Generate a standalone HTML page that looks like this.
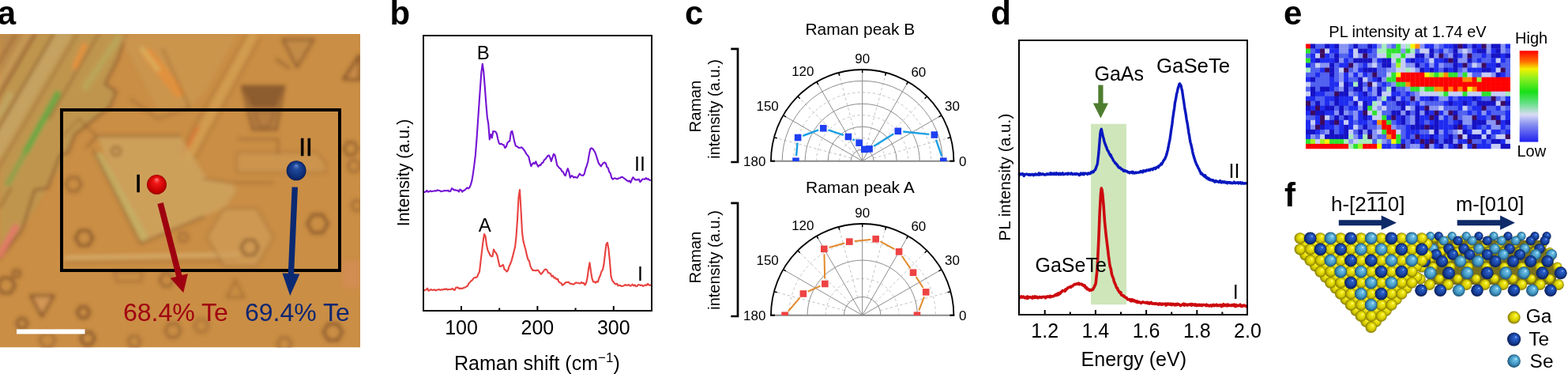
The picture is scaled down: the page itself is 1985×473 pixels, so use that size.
<!DOCTYPE html>
<html><head><meta charset="utf-8"><title>Figure</title>
<style>html,body{margin:0;padding:0;background:#fff;} body{width:1985px;height:473px;overflow:hidden;} svg{display:block;} text{font-family:'Liberation Sans', Arial, Helvetica, sans-serif;}</style>
</head><body>
<svg width="1985" height="473" viewBox="0 0 1985 473">
<rect width="1985" height="473" fill="#fff"/>
<defs><filter id="blur3" x="-10%" y="-10%" width="120%" height="120%"><feGaussianBlur stdDeviation="2.6"/></filter><filter id="blur6" x="-20%" y="-20%" width="140%" height="140%"><feGaussianBlur stdDeviation="5"/></filter><clipPath id="photoclip"><rect x="0" y="43" width="456" height="396.5"/></clipPath><radialGradient id="redball" cx="0.5" cy="0.5" r="0.5" fx="0.5" fy="0.22"><stop offset="0" stop-color="#ff8080"/><stop offset="0.3" stop-color="#f01818"/><stop offset="0.8" stop-color="#c80000"/><stop offset="1" stop-color="#9a0000"/></radialGradient><radialGradient id="blueball" cx="0.5" cy="0.5" r="0.5" fx="0.5" fy="0.22"><stop offset="0" stop-color="#6a8ad0"/><stop offset="0.3" stop-color="#204a9c"/><stop offset="0.8" stop-color="#0e2e78"/><stop offset="1" stop-color="#081e56"/></radialGradient></defs>
<g clip-path="url(#photoclip)">
<rect x="0" y="43" width="456" height="396.5" fill="#ca8e45"/>
<g filter="url(#blur3)">
<polygon points="0,43 160,43 149,75 133,106 147,116 139,135 95,170 86,193 60,238 28,290 0,327" fill="#bd9650" stroke="none" stroke-width="0" opacity="0.85" stroke-linejoin="round"/>
<polygon points="0,43 45,43 0,116" fill="#b8844a" stroke="none" stroke-width="0" opacity="0.6" stroke-linejoin="round"/>
<line x1="80.0" y1="43" x2="-94.7" y2="340" stroke="#c6a464" stroke-width="20" opacity="0.9" stroke-linecap="round"/>
<line x1="12.7" y1="120" x2="-93.2" y2="300" stroke="#c0aa66" stroke-width="8" opacity="0.8" stroke-linecap="round"/>
<line x1="20.0" y1="43" x2="-48.8" y2="160" stroke="#8e5428" stroke-width="2.5" opacity="0.7" stroke-linecap="round"/>
<line x1="45.0" y1="43" x2="-47.4" y2="200" stroke="#8e5428" stroke-width="3" opacity="0.85" stroke-linecap="round"/>
<line x1="68.0" y1="43" x2="-59.6" y2="260" stroke="#8a5a2c" stroke-width="3" opacity="0.8" stroke-linecap="round"/>
<line x1="98.0" y1="43" x2="-12.0" y2="230" stroke="#946234" stroke-width="2.5" opacity="0.6" stroke-linecap="round"/>
<line x1="125.0" y1="43" x2="62.1" y2="150" stroke="#8e5a2e" stroke-width="3" opacity="0.6" stroke-linecap="round"/>
<line x1="35.0" y1="43" x2="-57.4" y2="200" stroke="#d0a860" stroke-width="6" opacity="0.6" stroke-linecap="round"/>
<line x1="31.7" y1="193" x2="72.9" y2="119" stroke="#6aa844" stroke-width="8" opacity="1" stroke-linecap="round"/>
<line x1="10" y1="232" x2="32" y2="193" stroke="#86a448" stroke-width="7" opacity="0.8" stroke-linecap="round"/>
<line x1="95" y1="84" x2="107" y2="58" stroke="#e8923c" stroke-width="7" opacity="0.9" stroke-linecap="round"/>
<line x1="108" y1="110" x2="150" y2="48" stroke="#b8ac5c" stroke-width="9" opacity="0.7" stroke-linecap="round"/>
<polyline points="160,43 149,75 133,106 147,116 139,135 95,170 86,193 76,196 60,238 44,240 28,290 0,327" fill="none" stroke="#8a562a" stroke-width="3" opacity="0.85" stroke-linejoin="round" stroke-linecap="round"/>
<line x1="0" y1="322" x2="20" y2="287" stroke="#e47a68" stroke-width="8" opacity="0.95" stroke-linecap="round"/>
<line x1="0" y1="262" x2="14" y2="238" stroke="#8a582a" stroke-width="3" opacity="0.6" stroke-linecap="round"/>
<polygon points="150,43 300,43 262,112 238,140 200,140 180,100" fill="#cc9a52" stroke="none" stroke-width="0" opacity="0.6" stroke-linejoin="round"/>
<line x1="187" y1="68" x2="226" y2="116" stroke="#e4903a" stroke-width="14" opacity="0.85" stroke-linecap="round"/>
<line x1="180" y1="62" x2="200" y2="88" stroke="#d8b868" stroke-width="6" opacity="0.7" stroke-linecap="round"/>
<polyline points="206,62 240,136 200,150 165,125" fill="none" stroke="#8a582a" stroke-width="2.5" opacity="0.5" stroke-linejoin="round" stroke-linecap="round"/>
<line x1="238" y1="198" x2="320" y2="46" stroke="#d8a656" stroke-width="11" opacity="0.6" stroke-linecap="round"/>
<line x1="232" y1="196" x2="250" y2="162" stroke="#e06a2c" stroke-width="5" opacity="0.6" stroke-linecap="round"/>
<line x1="228" y1="192" x2="312" y2="44" stroke="#8a582a" stroke-width="2" opacity="0.45" stroke-linecap="round"/>
<line x1="247" y1="200" x2="328" y2="50" stroke="#8a582a" stroke-width="2" opacity="0.45" stroke-linecap="round"/>
<polygon points="306,109 360,109 350,164 320,164" fill="#b27a40" stroke="#7e4e26" stroke-width="2.5" opacity="0.85" stroke-linejoin="round"/>
<polygon points="307,110 359,110 350,136 318,136" fill="#8a5a2e" stroke="none" stroke-width="0" opacity="0.9" stroke-linejoin="round"/>
<polygon points="322,140 348,140 340,160 328,160" fill="none" stroke="#7e4e26" stroke-width="2" opacity="0.6" stroke-linejoin="round"/>
<polygon points="358,50 397,50 376,85" fill="#c08a48" stroke="#7e4e26" stroke-width="3" opacity="0.75" stroke-linejoin="round"/>
<line x1="350" y1="75" x2="366" y2="86" stroke="#7e4e26" stroke-width="3" opacity="0.6" stroke-linecap="round"/>
<polygon points="435,100 455,70 455,101" fill="#c88a48" stroke="#7c4c24" stroke-width="3.2" opacity="0.9" stroke-linejoin="round"/>
<polygon points="453.0,188.0 448.5,195.8 439.5,195.8 435.0,188.0 439.5,180.2 448.5,180.2" fill="none" stroke="#7c4c24" stroke-width="3.2" opacity="0.7" stroke-linejoin="round"/>
<polyline points="303,176 352,176 352,195" fill="none" stroke="#8a582a" stroke-width="2.5" opacity="0.55" stroke-linejoin="round" stroke-linecap="round"/>
<polygon points="123,172 228,172 262,226 292,231 300,240 285,262 258,274 178,306" fill="#cda562" stroke="none" stroke-width="0" opacity="0.75" stroke-linejoin="round"/>
<line x1="126" y1="198" x2="182" y2="300" stroke="#c4b066" stroke-width="10" opacity="0.85" stroke-linecap="round"/>
<polyline points="110,186 123,172 228,172" fill="none" stroke="#8a582a" stroke-width="2.5" opacity="0.75" stroke-linejoin="round" stroke-linecap="round"/>
<polyline points="118,190 178,308 258,274" fill="none" stroke="#8a582a" stroke-width="2.5" opacity="0.75" stroke-linejoin="round" stroke-linecap="round"/>
<polyline points="258,226 292,231 345,231" fill="none" stroke="#8a582a" stroke-width="2.5" opacity="0.5" stroke-linejoin="round" stroke-linecap="round"/>
<polyline points="80,172 100,150 122,172" fill="none" stroke="#8a582a" stroke-width="2.5" opacity="0.5" stroke-linejoin="round" stroke-linecap="round"/>
<line x1="84" y1="326" x2="300" y2="322" stroke="#d6b070" stroke-width="6" opacity="0.75" stroke-linecap="round"/>
<line x1="84" y1="332" x2="300" y2="329" stroke="#8a582a" stroke-width="2" opacity="0.5" stroke-linecap="round"/>
<polygon points="300,193 400,193 412,205 412,218 300,218" fill="#cf9c58" stroke="#8a582a" stroke-width="2" opacity="0.45" stroke-linejoin="round"/>
<polygon points="117.5,301.0 112.0,310.5 101.0,310.5 95.5,301.0 101.0,291.5 112.0,291.5" fill="none" stroke="#7c4c24" stroke-width="3.2" opacity="0.9" stroke-linejoin="round"/>
<polygon points="103.0,233.0 98.0,241.7 88.0,241.7 83.0,233.0 88.0,224.3 98.0,224.3" fill="none" stroke="#7c4c24" stroke-width="3.2" opacity="0.6" stroke-linejoin="round"/>
<polygon points="153.0,191.0 150.0,196.2 144.0,196.2 141.0,191.0 144.0,185.8 150.0,185.8" fill="none" stroke="#7c4c24" stroke-width="3.2" opacity="0.55" stroke-linejoin="round"/>
<polygon points="415.0,283.0 408.5,294.3 395.5,294.3 389.0,283.0 395.5,271.7 408.5,271.7" fill="none" stroke="#7c4c24" stroke-width="3.2" opacity="0.9" stroke-linejoin="round"/>
<polygon points="327.0,313.0 321.5,322.5 310.5,322.5 305.0,313.0 310.5,303.5 321.5,303.5" fill="none" stroke="#7c4c24" stroke-width="3.2" opacity="0.75" stroke-linejoin="round"/>
<polygon points="113.5,395.0 109.5,401.9 101.5,401.9 97.5,395.0 101.5,388.1 109.5,388.1" fill="none" stroke="#7c4c24" stroke-width="3.2" opacity="0.9" stroke-linejoin="round"/>
<polygon points="19.0,361.0 13.5,370.5 2.5,370.5 -3.0,361.0 2.5,351.5 13.5,351.5" fill="none" stroke="#7c4c24" stroke-width="3.2" opacity="0.9" stroke-linejoin="round"/>
<polygon points="433.5,420.0 427.5,430.4 415.5,430.4 409.5,420.0 415.5,409.6 427.5,409.6" fill="none" stroke="#7c4c24" stroke-width="3.2" opacity="0.9" stroke-linejoin="round"/>
<polygon points="120.0,428.0 115.5,435.8 106.5,435.8 102.0,428.0 106.5,420.2 115.5,420.2" fill="none" stroke="#7c4c24" stroke-width="3.2" opacity="0.9" stroke-linejoin="round"/>
<polygon points="346.0,300.0 325.0,336.4 283.0,336.4 262.0,300.0 283.0,263.6 325.0,263.6" fill="#d09e5c" stroke="#9a6a38" stroke-width="2.2" opacity="0.6" stroke-linejoin="round"/>
<polygon points="327.0,313.0 321.5,322.5 310.5,322.5 305.0,313.0 310.5,303.5 321.5,303.5" fill="none" stroke="#7c4c24" stroke-width="3.2" opacity="0.75" stroke-linejoin="round"/>
<polygon points="39,374 68,374 53,400" fill="#d49a58" stroke="#7c4c24" stroke-width="3.2" opacity="0.9" stroke-linejoin="round"/>
<polygon points="287,376 309,376 298,354" fill="none" stroke="#8a582a" stroke-width="2.5" opacity="0.6" stroke-linejoin="round"/>
<polygon points="434,330 456,330 456,364 434,364" fill="#d48c56" stroke="none" stroke-width="0" opacity="0.75" stroke-linejoin="round"/>
<polygon points="35.0,409.0 31.5,415.1 24.5,415.1 21.0,409.0 24.5,402.9 31.5,402.9" fill="none" stroke="#7c4c24" stroke-width="3.2" opacity="0.8" stroke-linejoin="round"/>
<polygon points="26.0,346.0 23.5,350.3 18.5,350.3 16.0,346.0 18.5,341.7 23.5,341.7" fill="none" stroke="#7c4c24" stroke-width="3.2" opacity="0.7" stroke-linejoin="round"/>
<polygon points="229.0,418.0 224.0,426.7 214.0,426.7 209.0,418.0 214.0,409.3 224.0,409.3" fill="none" stroke="#7c4c24" stroke-width="3.2" opacity="0.6" stroke-linejoin="round"/>
<polygon points="220.0,354.0 215.5,361.8 206.5,361.8 202.0,354.0 206.5,346.2 215.5,346.2" fill="none" stroke="#7c4c24" stroke-width="3.2" opacity="0.6" stroke-linejoin="round"/>
<polygon points="144,344 181,344 178,356 148,356" fill="none" stroke="#8a582a" stroke-width="2.5" opacity="0.5" stroke-linejoin="round"/>
<polygon points="178.0,432.0 174.0,438.9 166.0,438.9 162.0,432.0 166.0,425.1 174.0,425.1" fill="none" stroke="#7c4c24" stroke-width="3.2" opacity="0.5" stroke-linejoin="round"/>
<polygon points="264.0,412.0 259.5,419.8 250.5,419.8 246.0,412.0 250.5,404.2 259.5,404.2" fill="none" stroke="#7c4c24" stroke-width="3.2" opacity="0.45" stroke-linejoin="round"/>
<polygon points="369.0,435.0 364.5,442.8 355.5,442.8 351.0,435.0 355.5,427.2 364.5,427.2" fill="none" stroke="#7c4c24" stroke-width="3.2" opacity="0.5" stroke-linejoin="round"/>
<polygon points="238.0,300.0 235.0,305.2 229.0,305.2 226.0,300.0 229.0,294.8 235.0,294.8" fill="none" stroke="#7c4c24" stroke-width="3.2" opacity="0.45" stroke-linejoin="round"/>
<polygon points="70.0,430.0 65.0,438.7 55.0,438.7 50.0,430.0 55.0,421.3 65.0,421.3" fill="none" stroke="#7c4c24" stroke-width="3.2" opacity="0.5" stroke-linejoin="round"/>
<polygon points="456.0,210.0 452.0,216.9 444.0,216.9 440.0,210.0 444.0,203.1 452.0,203.1" fill="none" stroke="#7c4c24" stroke-width="3.2" opacity="0.5" stroke-linejoin="round"/>
<polygon points="459.0,260.0 455.5,266.1 448.5,266.1 445.0,260.0 448.5,253.9 455.5,253.9" fill="none" stroke="#7c4c24" stroke-width="3.2" opacity="0.5" stroke-linejoin="round"/>
</g></g>
<rect x="78" y="139" width="352" height="203" fill="none" stroke="#000" stroke-width="4"/>
<rect x="21" y="416.4" width="86.5" height="6" fill="#fff"/>
<polygon points="199.32,257.95 223.03,349.94 215.57,351.87 232.2,370.3 237.85,346.13 230.39,348.05 206.68,256.05" fill="#9e0010"/>
<polygon points="369.6,236.54 364.75,345.86 357.45,345.54 367.2,374 379.43,346.52 372.14,346.19 377,236.86" fill="#0b2a72"/>
<circle cx="198.4" cy="233.5" r="12.5" fill="url(#redball)"/>
<circle cx="375.1" cy="215.8" r="12.5" fill="url(#blueball)"/>
<text x="175.1" y="242.5" font-size="31.5" text-anchor="middle" font-weight="normal" fill="#000" stroke="#000" stroke-width="0.6">I</text>
<text x="387" y="196.6" font-size="31.5" text-anchor="middle" font-weight="normal" fill="#000" stroke="#000" stroke-width="0.6">II</text>
<text x="156" y="405.9" font-size="32" text-anchor="start" font-weight="normal" fill="#a00010" >68.4% Te</text>
<text x="310" y="405.9" font-size="32" text-anchor="start" font-weight="normal" fill="#0d2670" >69.4% Te</text>
<text x="-3.2" y="30.9" font-size="42" text-anchor="start" font-weight="bold" fill="#000" >a</text>
<path d="M535.8 242.51L537.3 242.91L538.8 242.42L540.3 240.89L541.8 242.8L543.3 242.3L544.8 241.33L546.3 242.21L547.8 241.83L549.3 241.56L550.8 241.15L552.3 241.51L553.8 240.37L555.3 241.06L556.8 241.02L558.3 242.22L559.8 241.83L561.3 241.5L562.8 240.95L564.3 241.26L565.8 241.31L567.3 240.88L568.8 242.16L570.3 241.8L571.8 238.34L573.3 238.98L574.8 240.43L576.3 240.15L577.8 240.69L579.3 240.72L580.8 242.51L582.3 239.7L583.8 240.44L585.3 242.63L586.8 241.09L588.3 240.57L589.8 238.91L591.3 237.37L592.8 238.38L594.3 237.34L595.8 233.84L597.3 228.87L598.8 220.08L600.3 209.16L601.8 196.94L603.3 178.41L604.8 156.77L606.3 134.36L607.8 113.12L609.3 92.1L610.8 80.69L612.3 91.36L613.8 109.81L615.3 130.33L616.8 148.17L618.3 157.04L619.8 176.4L621.3 169.95L622.8 174.3L624.3 166.06L625.8 166.25L627.3 166.54L628.8 169.05L630.3 175.93L631.8 181.26L633.3 182.27L634.8 181.81L636.3 182.97L637.8 183.37L639.3 186.99L640.8 185.73L642.3 180.91L643.8 179.19L645.3 178.37L646.8 167.31L648.3 165.84L649.8 172.24L651.3 179.37L652.8 184.44L654.3 185.1L655.8 186.2L657.3 186.95L658.8 186.73L660.3 186.28L661.8 187.67L663.3 189.61L664.8 191.71L666.3 194.57L667.8 196.46L669.3 198.39L670.8 204.57L672.3 210.23L673.8 207.64L675.3 205.87L676.8 207.1L678.3 204.24L679.8 208.05L681.3 210.73L682.8 208.81L684.3 208.91L685.8 206.21L687.3 205.73L688.8 202.58L690.3 201.21L691.8 199.5L693.3 197.08L694.8 196.37L696.3 198.94L697.8 203.88L699.3 199.58L700.8 194.95L702.3 195.87L703.8 202.08L705.3 209.16L706.8 210.89L708.3 212.65L709.8 213.57L711.3 216.48L712.8 217.37L714.3 220.76L715.8 222.13L717.3 216.98L718.8 213.17L720.3 217.52L721.8 224.65L723.3 222.34L724.8 222.54L726.3 224.61L727.8 223.79L729.3 224.48L730.8 224.79L732.3 222.27L733.8 219.71L735.3 221.14L736.8 221.83L738.3 221.84L739.8 219.77L741.3 213.51L742.8 209.56L744.3 204.42L745.8 195.35L747.3 188.41L748.8 187.39L750.3 188.26L751.8 190.22L753.3 192.71L754.8 196.76L756.3 201.64L757.8 206.36L759.3 208.4L760.8 210.45L762.3 208.05L763.8 206.19L765.3 205.37L766.8 206.4L768.3 211.04L769.8 212.45L771.3 217.43L772.8 219.34L774.3 225.05L775.8 226.71L777.3 225.69L778.8 225.33L780.3 226.11L781.8 226.48L783.3 225.25L784.8 225.3L786.3 223.93L787.8 223.87L789.3 225.03L790.8 225.96L792.3 227.23L793.8 228.27L795.3 229.47L796.8 228.5L798.3 230.86L799.8 227.33L801.3 224.29L802.8 225.91L804.3 227.39L805.8 227.4L807.3 227.38L808.8 226.63L810.3 230.21L811.8 228.49L813.3 226.53L814.8 226.46L816.3 226.81L817.8 225.1L819.3 226.67L820.8 226.18L822.3 227.86L823.8 227.89" fill="none" stroke="#7412d4" stroke-width="2.1" stroke-linejoin="round"/>
<path d="M536.5 367.65L538 366.7L539.5 366.46L541 364.57L542.5 367.77L544 367.14L545.5 365.95L547 366.91L548.5 366.67L550 366.17L551.5 367.53L553 366.55L554.5 366.49L556 365.99L557.5 366.82L559 366.19L560.5 366.55L562 365.51L563.5 366.04L565 365.18L566.5 366.52L568 365.96L569.5 366.03L571 366.03L572.5 364.8L574 366.11L575.5 366.98L577 363.86L578.5 363.61L580 363.6L581.5 365.29L583 364.53L584.5 365.07L586 364.53L587.5 363.79L589 363.43L590.5 362.21L592 361.61L593.5 358.24L595 356.96L596.5 355.06L598 354.34L599.5 351.7L601 351.1L602.5 350.89L604 350.31L605.5 346.51L607 343.67L608.5 330.67L610 318L611.5 305.68L613 296.01L614.5 298.69L616 309.87L617.5 316.57L619 319.56L620.5 322.74L622 324.32L623.5 324.17L625 315.43L626.5 318.34L628 319.99L629.5 323.25L631 330.24L632.5 336.64L634 337.04L635.5 335.7L637 335.04L638.5 340.68L640 341.5L641.5 343.53L643 341.92L644.5 336.94L646 333.82L647.5 329.87L649 324.39L650.5 318.59L652 312.52L653.5 299.38L655 277.56L656.5 249.72L658 239.95L659.5 265.26L661 293.88L662.5 305.12L664 310.65L665.5 316.01L667 323.15L668.5 328.28L670 330.15L671.5 336.67L673 339.88L674.5 341.96L676 341.8L677.5 342.23L679 342.16L680.5 341.56L682 342.38L683.5 345.14L685 346.73L686.5 344.96L688 343.19L689.5 341.02L691 340.57L692.5 341.57L694 345.1L695.5 345.26L697 346.22L698.5 349.62L700 348.71L701.5 351.57L703 351.14L704.5 353.28L706 352.66L707.5 356.6L709 357.45L710.5 358.1L712 360.64L713.5 359.59L715 358.38L716.5 357.02L718 356.99L719.5 356.67L721 357.91L722.5 359.05L724 358.97L725.5 359.65L727 359.26L728.5 357.6L730 357.53L731.5 357.72L733 358.19L734.5 358.59L736 356.85L737.5 358.2L739 357.9L740.5 360.35L742 358.1L743.5 351.65L745 340.54L746.5 332.25L748 343.18L749.5 352.1L751 356.39L752.5 356.25L754 357.76L755.5 355.87L757 356.58L758.5 351.27L760 348.28L761.5 343.18L763 341.28L764.5 334.02L766 320.85L767.5 308.77L769 306.79L770.5 315.69L772 330.91L773.5 349.38L775 354.48L776.5 356.51L778 358.32L779.5 359.54L781 358.59L782.5 361.36L784 360.89L785.5 361.06L787 362.05L788.5 361.73L790 361.19L791.5 360L793 360.86L794.5 360.79L796 359.84L797.5 361.58L799 361.41L800.5 359.65L802 361.4L803.5 360.26L805 362.13L806.5 361.79L808 360.16L809.5 360.24L811 360.94L812.5 360.58L814 361.91L815.5 361.21L817 360.31L818.5 360.91L820 358.74L821.5 360.52L823 360.88L824.5 359.96" fill="none" stroke="#e8423f" stroke-width="2.1" stroke-linejoin="round"/>
<rect x="536" y="45" width="289" height="348" fill="none" stroke="#000" stroke-width="2"/>
<line x1="584" y1="393" x2="584" y2="387" stroke="#000" stroke-width="2"/>
<text x="584" y="422.7" font-size="25" text-anchor="middle" font-weight="normal" fill="#000" >100</text>
<line x1="680.4" y1="393" x2="680.4" y2="387" stroke="#000" stroke-width="2"/>
<text x="680.4" y="422.7" font-size="25" text-anchor="middle" font-weight="normal" fill="#000" >200</text>
<line x1="776.8" y1="393" x2="776.8" y2="387" stroke="#000" stroke-width="2"/>
<text x="776.8" y="422.7" font-size="25" text-anchor="middle" font-weight="normal" fill="#000" >300</text>
<line x1="632.2" y1="393" x2="632.2" y2="389.5" stroke="#000" stroke-width="2"/>
<line x1="728.6" y1="393" x2="728.6" y2="389.5" stroke="#000" stroke-width="2"/>
<text x="575" y="467.7" font-size="25" text-anchor="start" font-weight="normal" fill="#000" >Raman shift (cm<tspan font-size="17" dy="-10">−1</tspan><tspan dy="10">)</tspan></text>
<text x="517.6" y="218.5" font-size="21.4" text-anchor="middle" font-weight="normal" fill="#000" transform="rotate(-90 517.6 218.5)">Intensity (a.u.)</text>
<text x="611.7" y="75.3" font-size="24" text-anchor="middle" font-weight="normal" fill="#000" >B</text>
<text x="613.7" y="292.7" font-size="24" text-anchor="middle" font-weight="normal" fill="#000" >A</text>
<text x="810" y="215.8" font-size="25" text-anchor="middle" font-weight="normal" fill="#000" >II</text>
<text x="810.5" y="354.6" font-size="25" text-anchor="middle" font-weight="normal" fill="#000" >I</text>
<text x="493.5" y="30.9" font-size="42" text-anchor="start" font-weight="bold" fill="#000" >b</text>
<path d="M1062.7 203.7 A29 29 0 0 1 1120.7 203.7" fill="none" stroke="#c4c4c4" stroke-width="1" stroke-dasharray="3.5 3"/>
<path d="M1033.7 203.7 A58 58 0 0 1 1149.7 203.7" fill="none" stroke="#c4c4c4" stroke-width="1" stroke-dasharray="3.5 3"/>
<path d="M1004.7 203.7 A87 87 0 0 1 1178.7 203.7" fill="none" stroke="#c4c4c4" stroke-width="1" stroke-dasharray="3.5 3"/>
<line x1="1105.71" y1="199.95" x2="1203.46" y2="173.75" stroke="#c4c4c4" stroke-width="1" stroke-dasharray="3.5 3"/>
<line x1="1101.95" y1="193.45" x2="1173.51" y2="121.89" stroke="#c4c4c4" stroke-width="1" stroke-dasharray="3.5 3"/>
<line x1="1095.45" y1="189.69" x2="1121.65" y2="91.94" stroke="#c4c4c4" stroke-width="1" stroke-dasharray="3.5 3"/>
<line x1="1087.95" y1="189.69" x2="1061.75" y2="91.94" stroke="#c4c4c4" stroke-width="1" stroke-dasharray="3.5 3"/>
<line x1="1081.45" y1="193.45" x2="1009.89" y2="121.89" stroke="#c4c4c4" stroke-width="1" stroke-dasharray="3.5 3"/>
<line x1="1077.69" y1="199.95" x2="979.94" y2="173.75" stroke="#c4c4c4" stroke-width="1" stroke-dasharray="3.5 3"/>
<path d="M1077.2 203.7 A14.5 14.5 0 0 1 1106.2 203.7" fill="none" stroke="#8c8c8c" stroke-width="1"/>
<path d="M1048.2 203.7 A43.5 43.5 0 0 1 1135.2 203.7" fill="none" stroke="#8c8c8c" stroke-width="1"/>
<path d="M1019.2 203.7 A72.5 72.5 0 0 1 1164.2 203.7" fill="none" stroke="#8c8c8c" stroke-width="1"/>
<path d="M990.2 203.7 A101.5 101.5 0 0 1 1193.2 203.7" fill="none" stroke="#8c8c8c" stroke-width="1"/>
<line x1="1091.7" y1="203.7" x2="1191.9" y2="145.85" stroke="#8c8c8c" stroke-width="1"/>
<line x1="1091.7" y1="203.7" x2="1149.55" y2="103.5" stroke="#8c8c8c" stroke-width="1"/>
<line x1="1091.7" y1="203.7" x2="1091.7" y2="88" stroke="#8c8c8c" stroke-width="1"/>
<line x1="1091.7" y1="203.7" x2="1033.85" y2="103.5" stroke="#8c8c8c" stroke-width="1"/>
<line x1="1091.7" y1="203.7" x2="991.5" y2="145.85" stroke="#8c8c8c" stroke-width="1"/>
<line x1="976" y1="203.7" x2="1207.4" y2="203.7" stroke="#8a8a8a" stroke-width="2"/>
<path d="M976 203.7 A115.7 115.7 0 0 1 1207.4 203.7" fill="none" stroke="#000" stroke-width="1.8"/>
<line x1="1203.46" y1="173.75" x2="1199.59" y2="174.79" stroke="#000" stroke-width="1.5"/>
<line x1="1191.9" y1="145.85" x2="1188.44" y2="147.85" stroke="#000" stroke-width="1.5"/>
<line x1="1173.51" y1="121.89" x2="1170.68" y2="124.72" stroke="#000" stroke-width="1.5"/>
<line x1="1149.55" y1="103.5" x2="1147.55" y2="106.96" stroke="#000" stroke-width="1.5"/>
<line x1="1121.65" y1="91.94" x2="1120.61" y2="95.81" stroke="#000" stroke-width="1.5"/>
<line x1="1091.7" y1="88" x2="1091.7" y2="92" stroke="#000" stroke-width="1.5"/>
<line x1="1061.75" y1="91.94" x2="1062.79" y2="95.81" stroke="#000" stroke-width="1.5"/>
<line x1="1033.85" y1="103.5" x2="1035.85" y2="106.96" stroke="#000" stroke-width="1.5"/>
<line x1="1009.89" y1="121.89" x2="1012.72" y2="124.72" stroke="#000" stroke-width="1.5"/>
<line x1="991.5" y1="145.85" x2="994.96" y2="147.85" stroke="#000" stroke-width="1.5"/>
<line x1="979.94" y1="173.75" x2="983.81" y2="174.79" stroke="#000" stroke-width="1.5"/>
<line x1="975" y1="203.7" x2="981" y2="203.7" stroke="#000" stroke-width="2"/>
<line x1="1202.4" y1="203.7" x2="1208.4" y2="203.7" stroke="#000" stroke-width="2"/>
<line x1="1192.18" y1="197.56" x2="1184.97" y2="176.67" stroke="#1a9fe3" stroke-width="2.4"/>
<line x1="1176.38" y1="169.87" x2="1143.29" y2="166.5" stroke="#1a9fe3" stroke-width="2.4"/>
<line x1="1131.3" y1="169.27" x2="1106.07" y2="184.94" stroke="#1a9fe3" stroke-width="2.4"/>
<line x1="1081.97" y1="177.47" x2="1079.62" y2="176.14" stroke="#1a9fe3" stroke-width="2.4"/>
<line x1="1067.79" y1="170.87" x2="1048.45" y2="164.32" stroke="#1a9fe3" stroke-width="2.4"/>
<line x1="1036.19" y1="164.47" x2="1016.24" y2="171.78" stroke="#1a9fe3" stroke-width="2.4"/>
<line x1="1009.56" y1="180.49" x2="1008.07" y2="197.23" stroke="#1a9fe3" stroke-width="2.4"/>
<rect x="1190" y="199.4" width="8.6" height="4.6" fill="#1e3ff2"/>
<rect x="1178.55" y="166.22" width="8.6" height="8.6" fill="#1e3ff2"/>
<rect x="1132.52" y="161.54" width="8.6" height="8.6" fill="#1e3ff2"/>
<rect x="1096.25" y="184.07" width="8.6" height="8.6" fill="#1e3ff2"/>
<rect x="1090.02" y="184.53" width="8.6" height="8.6" fill="#1e3ff2"/>
<rect x="1083.34" y="176.36" width="8.6" height="8.6" fill="#1e3ff2"/>
<rect x="1069.65" y="168.66" width="8.6" height="8.6" fill="#1e3ff2"/>
<rect x="1037.99" y="157.94" width="8.6" height="8.6" fill="#1e3ff2"/>
<rect x="1005.83" y="169.71" width="8.6" height="8.6" fill="#1e3ff2"/>
<rect x="1003.2" y="199.4" width="8.6" height="4.6" fill="#1e3ff2"/>
<text x="1214" y="209.5" font-size="17" text-anchor="start" font-weight="normal" fill="#000" >0</text>
<text x="1196" y="140.3" font-size="17" text-anchor="start" font-weight="normal" fill="#000" >30</text>
<text x="1153.4" y="96.7" font-size="17" text-anchor="start" font-weight="normal" fill="#000" >60</text>
<text x="1091.8" y="80.1" font-size="17" text-anchor="middle" font-weight="normal" fill="#000" >90</text>
<text x="1030.5" y="96.2" font-size="17" text-anchor="end" font-weight="normal" fill="#000" >120</text>
<text x="985.8" y="140.3" font-size="17" text-anchor="end" font-weight="normal" fill="#000" >150</text>
<text x="969.4" y="209.5" font-size="17" text-anchor="end" font-weight="normal" fill="#000" >180</text>
<path d="M1045.3 398.7 A46.4 46.4 0 0 1 1138.1 398.7" fill="none" stroke="#c4c4c4" stroke-width="1" stroke-dasharray="3.5 3"/>
<path d="M998.9 398.7 A92.8 92.8 0 0 1 1184.5 398.7" fill="none" stroke="#c4c4c4" stroke-width="1" stroke-dasharray="3.5 3"/>
<line x1="1114.11" y1="392.7" x2="1203.46" y2="368.75" stroke="#c4c4c4" stroke-width="1" stroke-dasharray="3.5 3"/>
<line x1="1108.1" y1="382.3" x2="1173.51" y2="316.89" stroke="#c4c4c4" stroke-width="1" stroke-dasharray="3.5 3"/>
<line x1="1097.7" y1="376.29" x2="1121.65" y2="286.94" stroke="#c4c4c4" stroke-width="1" stroke-dasharray="3.5 3"/>
<line x1="1085.7" y1="376.29" x2="1061.75" y2="286.94" stroke="#c4c4c4" stroke-width="1" stroke-dasharray="3.5 3"/>
<line x1="1075.3" y1="382.3" x2="1009.89" y2="316.89" stroke="#c4c4c4" stroke-width="1" stroke-dasharray="3.5 3"/>
<line x1="1069.29" y1="392.7" x2="979.94" y2="368.75" stroke="#c4c4c4" stroke-width="1" stroke-dasharray="3.5 3"/>
<path d="M1068.5 398.7 A23.2 23.2 0 0 1 1114.9 398.7" fill="none" stroke="#8c8c8c" stroke-width="1"/>
<path d="M1022.1 398.7 A69.6 69.6 0 0 1 1161.3 398.7" fill="none" stroke="#8c8c8c" stroke-width="1"/>
<line x1="1091.7" y1="398.7" x2="1191.9" y2="340.85" stroke="#8c8c8c" stroke-width="1"/>
<line x1="1091.7" y1="398.7" x2="1149.55" y2="298.5" stroke="#8c8c8c" stroke-width="1"/>
<line x1="1091.7" y1="398.7" x2="1091.7" y2="283" stroke="#8c8c8c" stroke-width="1"/>
<line x1="1091.7" y1="398.7" x2="1033.85" y2="298.5" stroke="#8c8c8c" stroke-width="1"/>
<line x1="1091.7" y1="398.7" x2="991.5" y2="340.85" stroke="#8c8c8c" stroke-width="1"/>
<line x1="976" y1="398.7" x2="1207.4" y2="398.7" stroke="#8a8a8a" stroke-width="2"/>
<path d="M976 398.7 A115.7 115.7 0 0 1 1207.4 398.7" fill="none" stroke="#000" stroke-width="1.8"/>
<line x1="1203.46" y1="368.75" x2="1199.59" y2="369.79" stroke="#000" stroke-width="1.5"/>
<line x1="1191.9" y1="340.85" x2="1188.44" y2="342.85" stroke="#000" stroke-width="1.5"/>
<line x1="1173.51" y1="316.89" x2="1170.68" y2="319.72" stroke="#000" stroke-width="1.5"/>
<line x1="1149.55" y1="298.5" x2="1147.55" y2="301.96" stroke="#000" stroke-width="1.5"/>
<line x1="1121.65" y1="286.94" x2="1120.61" y2="290.81" stroke="#000" stroke-width="1.5"/>
<line x1="1091.7" y1="283" x2="1091.7" y2="287" stroke="#000" stroke-width="1.5"/>
<line x1="1061.75" y1="286.94" x2="1062.79" y2="290.81" stroke="#000" stroke-width="1.5"/>
<line x1="1033.85" y1="298.5" x2="1035.85" y2="301.96" stroke="#000" stroke-width="1.5"/>
<line x1="1009.89" y1="316.89" x2="1012.72" y2="319.72" stroke="#000" stroke-width="1.5"/>
<line x1="991.5" y1="340.85" x2="994.96" y2="342.85" stroke="#000" stroke-width="1.5"/>
<line x1="979.94" y1="368.75" x2="983.81" y2="369.79" stroke="#000" stroke-width="1.5"/>
<line x1="975" y1="398.7" x2="981" y2="398.7" stroke="#000" stroke-width="2"/>
<line x1="1202.4" y1="398.7" x2="1208.4" y2="398.7" stroke="#000" stroke-width="2"/>
<line x1="1163.33" y1="392.63" x2="1169.91" y2="375.46" stroke="#e38a2c" stroke-width="2.0"/>
<line x1="1168.67" y1="363.95" x2="1159.61" y2="350.14" stroke="#e38a2c" stroke-width="2.0"/>
<line x1="1152.39" y1="339.33" x2="1141.76" y2="323.71" stroke="#e38a2c" stroke-width="2.0"/>
<line x1="1132.39" y1="315.22" x2="1114.41" y2="305.4" stroke="#e38a2c" stroke-width="2.0"/>
<line x1="1102.23" y1="302.94" x2="1081.76" y2="304.99" stroke="#e38a2c" stroke-width="2.0"/>
<line x1="1069.05" y1="307.44" x2="1049.55" y2="313.07" stroke="#e38a2c" stroke-width="2.0"/>
<line x1="1043.46" y1="321.37" x2="1044.2" y2="352.48" stroke="#e38a2c" stroke-width="2.0"/>
<line x1="1038.44" y1="361.67" x2="1022.82" y2="368.78" stroke="#e38a2c" stroke-width="2.0"/>
<line x1="1012.67" y1="376.41" x2="997.83" y2="393.76" stroke="#e38a2c" stroke-width="2.0"/>
<rect x="1156.7" y="394.4" width="8.6" height="4.6" fill="#ee4343"/>
<rect x="1167.93" y="365.09" width="8.6" height="8.6" fill="#ee4343"/>
<rect x="1151.75" y="340.41" width="8.6" height="8.6" fill="#ee4343"/>
<rect x="1133.8" y="314.03" width="8.6" height="8.6" fill="#ee4343"/>
<rect x="1104.4" y="297.99" width="8.6" height="8.6" fill="#ee4343"/>
<rect x="1070.99" y="301.34" width="8.6" height="8.6" fill="#ee4343"/>
<rect x="1039" y="310.57" width="8.6" height="8.6" fill="#ee4343"/>
<rect x="1040.06" y="354.68" width="8.6" height="8.6" fill="#ee4343"/>
<rect x="1012.6" y="367.18" width="8.6" height="8.6" fill="#ee4343"/>
<rect x="989.3" y="394.4" width="8.6" height="4.6" fill="#ee4343"/>
<text x="1214" y="404.5" font-size="17" text-anchor="start" font-weight="normal" fill="#000" >0</text>
<text x="1196" y="335.3" font-size="17" text-anchor="start" font-weight="normal" fill="#000" >30</text>
<text x="1153.4" y="291.7" font-size="17" text-anchor="start" font-weight="normal" fill="#000" >60</text>
<text x="1091.8" y="275.1" font-size="17" text-anchor="middle" font-weight="normal" fill="#000" >90</text>
<text x="1030.5" y="291.2" font-size="17" text-anchor="end" font-weight="normal" fill="#000" >120</text>
<text x="985.8" y="335.3" font-size="17" text-anchor="end" font-weight="normal" fill="#000" >150</text>
<text x="969.4" y="404.5" font-size="17" text-anchor="end" font-weight="normal" fill="#000" >180</text>
<text x="1088.9" y="44" font-size="21" text-anchor="middle" font-weight="normal" fill="#000" >Raman peak B</text>
<text x="887.2" y="134.5" font-size="20.5" text-anchor="middle" font-weight="normal" fill="#000" transform="rotate(-90 887.2 134.5)">Raman</text>
<text x="911" y="138" font-size="20" text-anchor="middle" font-weight="normal" fill="#000" transform="rotate(-90 911 138)">intensity (a.u.)</text>
<path d="M925.3 61.8 H934 V205 H925.3" fill="none" stroke="#000" stroke-width="2.7"/>
<text x="1088.9" y="244" font-size="21" text-anchor="middle" font-weight="normal" fill="#000" >Raman peak A</text>
<text x="887.2" y="325.5" font-size="20.5" text-anchor="middle" font-weight="normal" fill="#000" transform="rotate(-90 887.2 325.5)">Raman</text>
<text x="911" y="329" font-size="20" text-anchor="middle" font-weight="normal" fill="#000" transform="rotate(-90 911 329)">intensity (a.u.)</text>
<path d="M925.3 256.8 H934 V400 H925.3" fill="none" stroke="#000" stroke-width="2.7"/>
<text x="867" y="31" font-size="42" text-anchor="start" font-weight="bold" fill="#000" >c</text>
<rect x="1381" y="156.7" width="45" height="228.5" fill="#cfe6bb"/>
<path d="M1290 221.82L1290.7 219.29L1291.4 220.93L1292.1 220.39L1292.8 220.45L1293.5 220.58L1294.2 219.58L1294.9 220.56L1295.6 220.21L1296.3 222.52L1297 220.81L1297.7 220.49L1298.4 220.52L1299.1 220.31L1299.8 220.09L1300.5 220.45L1301.2 220.93L1301.9 220.53L1302.6 221.18L1303.3 220.54L1304 220.66L1304.7 221.49L1305.4 220.94L1306.1 220.35L1306.8 220.52L1307.5 220.92L1308.2 221.68L1308.9 220.46L1309.6 220.47L1310.3 221.15L1311 220.1L1311.7 220.42L1312.4 221.06L1313.1 220.88L1313.8 220.6L1314.5 220.91L1315.2 218.97L1315.9 221.08L1316.6 219.98L1317.3 219.57L1318 220.63L1318.7 220.84L1319.4 220.2L1320.1 219.84L1320.8 220.43L1321.5 220.37L1322.2 221.15L1322.9 220.77L1323.6 220.45L1324.3 220.94L1325 220.2L1325.7 219.79L1326.4 220.6L1327.1 220.58L1327.8 220.13L1328.5 219.8L1329.2 220.34L1329.9 218.83L1330.6 220.57L1331.3 220.44L1332 219.26L1332.7 220.17L1333.4 219.59L1334.1 220.52L1334.8 218.97L1335.5 219.57L1336.2 220.44L1336.9 220.67L1337.6 218.83L1338.3 219.72L1339 220.16L1339.7 219.62L1340.4 220.81L1341.1 219.27L1341.8 220.1L1342.5 219.31L1343.2 220.65L1343.9 219.85L1344.6 219.65L1345.3 218.89L1346 220.75L1346.7 220.23L1347.4 220.23L1348.1 220.43L1348.8 219.99L1349.5 219.45L1350.2 219.36L1350.9 219.36L1351.6 220.56L1352.3 219.01L1353 219.5L1353.7 219.66L1354.4 219.97L1355.1 220.18L1355.8 219.19L1356.5 218.95L1357.2 219.92L1357.9 220.61L1358.6 220.37L1359.3 220.1L1360 219.83L1360.7 220.18L1361.4 219.91L1362.1 220.51L1362.8 219.64L1363.5 220.17L1364.2 220.06L1364.9 220.43L1365.6 220.27L1366.3 221.57L1367 221L1367.7 221.01L1368.4 219.07L1369.1 220.01L1369.8 219.87L1370.5 220.49L1371.2 218.9L1371.9 220.74L1372.6 220.6L1373.3 219.2L1374 219.27L1374.7 219.24L1375.4 219.58L1376.1 219.78L1376.8 220.43L1377.5 219.06L1378.2 219.45L1378.9 218.96L1379.6 219.67L1380.3 218.91L1381 219.04L1381.7 217.44L1382.4 217.65L1383.1 216.98L1383.8 217.86L1384.5 216.92L1385.2 215.82L1385.9 215.07L1386.6 214.68L1387.3 212.63L1388 210.63L1388.7 209.1L1389.4 206.67L1390.1 200.39L1390.8 194.06L1391.5 185.65L1392.2 177.17L1392.9 168.64L1393.6 164.67L1394.3 163.28L1395 166.62L1395.7 169.96L1396.4 173.02L1397.1 175.02L1397.8 178.21L1398.5 180.78L1399.2 182.38L1399.9 184.47L1400.6 186.04L1401.3 187.92L1402 190.03L1402.7 190.67L1403.4 192.06L1404.1 193.79L1404.8 194.87L1405.5 196.63L1406.2 195.77L1406.9 198.62L1407.6 199.1L1408.3 200.63L1409 202.17L1409.7 203.4L1410.4 204.4L1411.1 204.85L1411.8 206.55L1412.5 206.37L1413.2 207.27L1413.9 208.57L1414.6 208.58L1415.3 210.79L1416 210.86L1416.7 212.18L1417.4 211.64L1418.1 212.1L1418.8 213.01L1419.5 213.88L1420.2 213.66L1420.9 214.63L1421.6 214.82L1422.3 216.11L1423 215.23L1423.7 216.52L1424.4 215.92L1425.1 216.05L1425.8 216.44L1426.5 216.4L1427.2 217.32L1427.9 217.94L1428.6 217.6L1429.3 217.98L1430 218.65L1430.7 218.02L1431.4 218.09L1432.1 217.93L1432.8 217.29L1433.5 218.67L1434.2 217.36L1434.9 218.75L1435.6 218.43L1436.3 219.09L1437 218.46L1437.7 218.05L1438.4 218.68L1439.1 218.14L1439.8 218.3L1440.5 218.34L1441.2 218.15L1441.9 218.01L1442.6 217.54L1443.3 217.75L1444 216.54L1444.7 217.47L1445.4 216.74L1446.1 217.85L1446.8 217.76L1447.5 215.82L1448.2 216.8L1448.9 216.48L1449.6 215.81L1450.3 216.53L1451 215.82L1451.7 214.94L1452.4 215.6L1453.1 215.5L1453.8 215.46L1454.5 214.54L1455.2 215.37L1455.9 215.24L1456.6 214.01L1457.3 214.06L1458 214.16L1458.7 213.66L1459.4 214.69L1460.1 213.59L1460.8 212.65L1461.5 212.49L1462.2 212.6L1462.9 213.58L1463.6 211.88L1464.3 211.69L1465 211.52L1465.7 210.8L1466.4 211.63L1467.1 209.61L1467.8 209.79L1468.5 208.92L1469.2 208.57L1469.9 206.94L1470.6 207.87L1471.3 206.06L1472 205.23L1472.7 203.63L1473.4 202.53L1474.1 201.89L1474.8 200.62L1475.5 198.86L1476.2 197.34L1476.9 195.12L1477.6 192.31L1478.3 189.86L1479 186.45L1479.7 182.5L1480.4 179.18L1481.1 175.61L1481.8 170.77L1482.5 165.62L1483.2 161.08L1483.9 156.5L1484.6 150.26L1485.3 145.5L1486 140.59L1486.7 136.49L1487.4 130.14L1488.1 127.04L1488.8 123.64L1489.5 118.84L1490.2 116.69L1490.9 113.24L1491.6 110.42L1492.3 108.79L1493 106.17L1493.7 105.9L1494.4 107.8L1495.1 108.16L1495.8 112.24L1496.5 114.12L1497.2 119.14L1497.9 123.94L1498.6 127.93L1499.3 133.37L1500 138.13L1500.7 141.64L1501.4 145.71L1502.1 150.82L1502.8 154.44L1503.5 158.14L1504.2 163L1504.9 168.07L1505.6 171.39L1506.3 175.93L1507 179.86L1507.7 182.55L1508.4 185.29L1509.1 188.4L1509.8 192.1L1510.5 195.35L1511.2 197.54L1511.9 200.11L1512.6 201.87L1513.3 204.45L1514 206.04L1514.7 207.96L1515.4 209.06L1516.1 210.34L1516.8 212.29L1517.5 213.22L1518.2 214.51L1518.9 216.54L1519.6 217.16L1520.3 219.79L1521 219.59L1521.7 219.54L1522.4 221.03L1523.1 221.45L1523.8 221.5L1524.5 223.08L1525.2 222.61L1525.9 221.89L1526.6 224.51L1527.3 224.2L1528 225.8L1528.7 225.04L1529.4 225.13L1530.1 226.98L1530.8 225.86L1531.5 226.85L1532.2 227.81L1532.9 227.34L1533.6 227.49L1534.3 227.83L1535 228.46L1535.7 227.77L1536.4 228.76L1537.1 228.94L1537.8 230.09L1538.5 228.79L1539.2 228.63L1539.9 229.69L1540.6 229.2L1541.3 229.7L1542 229.72L1542.7 230.39L1543.4 229.48L1544.1 229.88L1544.8 228.62L1545.5 229.61L1546.2 231.02L1546.9 229.87L1547.6 229.93L1548.3 229.7L1549 230.75L1549.7 230.58L1550.4 229.87L1551.1 230.94L1551.8 230.76L1552.5 231.08L1553.2 230.35L1553.9 231.7L1554.6 231.01L1555.3 230.76L1556 230.58L1556.7 230.76L1557.4 231.4L1558.1 230.82L1558.8 231.59L1559.5 231.34L1560.2 231.79L1560.9 231.53L1561.6 231.07L1562.3 230.08L1563 231.31L1563.7 231.6L1564.4 231.28L1565.1 231.51L1565.8 230.96L1566.5 231.02L1567.2 230.73L1567.9 232.01L1568.6 231.37L1569.3 231.02L1570 230.57L1570.7 231.23L1571.4 232.13L1572.1 231.6L1572.8 230.96L1573.5 232.15L1574.2 232.16L1574.9 231.92L1575.6 231.82L1576.3 232.03L1577 231.7L1577.7 231.83L1578.4 230.97" fill="none" stroke="#0818bf" stroke-width="3.4" stroke-linejoin="round"/>
<path d="M1290 375.24L1290.7 375.55L1291.4 376.61L1292.1 376.11L1292.8 374.88L1293.5 375.83L1294.2 375.53L1294.9 375.99L1295.6 375.06L1296.3 376.11L1297 376.14L1297.7 376.91L1298.4 376.25L1299.1 376.38L1299.8 375.3L1300.5 377.38L1301.2 375.1L1301.9 376.78L1302.6 376L1303.3 375.71L1304 375.84L1304.7 375.83L1305.4 376.41L1306.1 376.14L1306.8 377.01L1307.5 375.18L1308.2 376.18L1308.9 375.68L1309.6 376.59L1310.3 374.99L1311 375.95L1311.7 376.24L1312.4 375.29L1313.1 376.64L1313.8 376.17L1314.5 376.61L1315.2 376.57L1315.9 375.48L1316.6 375.56L1317.3 375.86L1318 376.37L1318.7 376.4L1319.4 375.52L1320.1 375.55L1320.8 375.41L1321.5 375.49L1322.2 375.64L1322.9 375.65L1323.6 376.8L1324.3 375.33L1325 375.38L1325.7 375.72L1326.4 374.87L1327.1 375.11L1327.8 375.23L1328.5 375.56L1329.2 374.31L1329.9 375.69L1330.6 374.63L1331.3 374.81L1332 375.05L1332.7 374.79L1333.4 374.81L1334.1 374.1L1334.8 373.74L1335.5 373.66L1336.2 372.66L1336.9 373.58L1337.6 372.19L1338.3 371.62L1339 373.14L1339.7 371.62L1340.4 370.7L1341.1 372.01L1341.8 370.43L1342.5 370.81L1343.2 369.37L1343.9 369.29L1344.6 368.09L1345.3 367.56L1346 367.68L1346.7 367.77L1347.4 367.85L1348.1 368.34L1348.8 366.02L1349.5 366.72L1350.2 365.42L1350.9 365.24L1351.6 364.1L1352.3 363.68L1353 363.66L1353.7 363.02L1354.4 363.28L1355.1 362.51L1355.8 363.18L1356.5 362.14L1357.2 361.68L1357.9 361.75L1358.6 360.94L1359.3 360.19L1360 359.75L1360.7 359.38L1361.4 359.74L1362.1 359.37L1362.8 359.02L1363.5 359.24L1364.2 358.52L1364.9 359.13L1365.6 358.12L1366.3 359.7L1367 359.08L1367.7 359.21L1368.4 359.53L1369.1 359.37L1369.8 359.54L1370.5 360.75L1371.2 360.65L1371.9 360.61L1372.6 361.91L1373.3 361.27L1374 363.62L1374.7 363.07L1375.4 363.7L1376.1 365.48L1376.8 365.99L1377.5 365.41L1378.2 366.16L1378.9 366.79L1379.6 367.35L1380.3 366.43L1381 366.54L1381.7 367.05L1382.4 366.39L1383.1 366.41L1383.8 365.77L1384.5 364.02L1385.2 363.25L1385.9 360.99L1386.6 360.36L1387.3 357.53L1388 350.24L1388.7 344.08L1389.4 333.46L1390.1 318.91L1390.8 303.9L1391.5 286.77L1392.2 268.46L1392.9 255.52L1393.6 243.97L1394.3 238.06L1395 240.09L1395.7 245.02L1396.4 252.49L1397.1 260.27L1397.8 270.66L1398.5 280.33L1399.2 287.58L1399.9 294.32L1400.6 300.86L1401.3 306.36L1402 311.97L1402.7 317.75L1403.4 323.92L1404.1 328.65L1404.8 334.64L1405.5 337.91L1406.2 339.52L1406.9 343.85L1407.6 347.67L1408.3 349.18L1409 351.16L1409.7 352.97L1410.4 356.1L1411.1 357.74L1411.8 359.32L1412.5 360.87L1413.2 363.04L1413.9 364.21L1414.6 364.5L1415.3 366.89L1416 367.72L1416.7 368.58L1417.4 369.98L1418.1 370.44L1418.8 369.64L1419.5 372.87L1420.2 373.31L1420.9 373.34L1421.6 373.83L1422.3 374.74L1423 374.44L1423.7 375.8L1424.4 375.96L1425.1 376.33L1425.8 376.44L1426.5 376.98L1427.2 378.34L1427.9 378.83L1428.6 378.72L1429.3 378.74L1430 378.58L1430.7 379.73L1431.4 380.47L1432.1 378.92L1432.8 380.65L1433.5 378.98L1434.2 380.16L1434.9 380.72L1435.6 379.91L1436.3 379.98L1437 381.06L1437.7 381.57L1438.4 380.96L1439.1 382.09L1439.8 381.04L1440.5 382.55L1441.2 381.76L1441.9 381.93L1442.6 382.24L1443.3 382.18L1444 383.12L1444.7 383.41L1445.4 382.58L1446.1 382.28L1446.8 381.8L1447.5 382.12L1448.2 382.61L1448.9 382.63L1449.6 382.73L1450.3 382.83L1451 383.17L1451.7 382.23L1452.4 382.48L1453.1 383.72L1453.8 383.63L1454.5 382.94L1455.2 384.01L1455.9 382.99L1456.6 383.28L1457.3 382.47L1458 384L1458.7 383.59L1459.4 384.23L1460.1 384.09L1460.8 383.8L1461.5 383.89L1462.2 384.51L1462.9 383.81L1463.6 383.86L1464.3 384.03L1465 384.48L1465.7 384.59L1466.4 385.18L1467.1 384.12L1467.8 384.9L1468.5 383.88L1469.2 384.61L1469.9 384.38L1470.6 385.3L1471.3 384.72L1472 384.17L1472.7 384.76L1473.4 384.67L1474.1 384.33L1474.8 384.37L1475.5 384.05L1476.2 386.11L1476.9 384.7L1477.6 385.18L1478.3 384.03L1479 384.1L1479.7 384.64L1480.4 384.67L1481.1 385.22L1481.8 384.25L1482.5 385.12L1483.2 385.68L1483.9 384.37L1484.6 385.39L1485.3 384.38L1486 385.13L1486.7 385.16L1487.4 385.93L1488.1 384.62L1488.8 385.11L1489.5 385.61L1490.2 384.41L1490.9 385.07L1491.6 384.62L1492.3 384.73L1493 385.51L1493.7 385.54L1494.4 386.59L1495.1 385.95L1495.8 385.92L1496.5 385.14L1497.2 385.09L1497.9 385.35L1498.6 384.04L1499.3 386.22L1500 384.96L1500.7 384.76L1501.4 385.11L1502.1 385.86L1502.8 386.08L1503.5 385.21L1504.2 385.67L1504.9 385.42L1505.6 384.92L1506.3 385.58L1507 385.52L1507.7 384.67L1508.4 386.14L1509.1 384.69L1509.8 385.7L1510.5 385.01L1511.2 385.16L1511.9 385.24L1512.6 386.03L1513.3 384.97L1514 385.57L1514.7 386.54L1515.4 385.32L1516.1 385.71L1516.8 386.11L1517.5 385.44L1518.2 386.03L1518.9 385.42L1519.6 386.19L1520.3 385.85L1521 385.32L1521.7 386.63L1522.4 385.81L1523.1 385.73L1523.8 385.39L1524.5 385.65L1525.2 385.87L1525.9 386.04L1526.6 386.56L1527.3 385.25L1528 385.79L1528.7 386.66L1529.4 386.11L1530.1 386.25L1530.8 386.92L1531.5 386.24L1532.2 386.32L1532.9 386.06L1533.6 387.07L1534.3 386.68L1535 385.72L1535.7 386.43L1536.4 385.51L1537.1 386.75L1537.8 386.54L1538.5 386.09L1539.2 385.97L1539.9 385.22L1540.6 386.63L1541.3 386.16L1542 386.06L1542.7 386.64L1543.4 385.89L1544.1 385.95L1544.8 385.9L1545.5 385.55L1546.2 387.63L1546.9 386.2L1547.6 386.13L1548.3 386.83L1549 384.61L1549.7 386.33L1550.4 386.37L1551.1 385.84L1551.8 386.63L1552.5 385.28L1553.2 386.4L1553.9 386.89L1554.6 385.18L1555.3 385.61L1556 386.33L1556.7 386.41L1557.4 386.06L1558.1 386.62L1558.8 386.56L1559.5 385.69L1560.2 386.38L1560.9 385.74L1561.6 385.3L1562.3 385.12L1563 387.02L1563.7 386.39L1564.4 387.54L1565.1 385.67L1565.8 386.28L1566.5 386.67L1567.2 386.41L1567.9 386.78L1568.6 386.59L1569.3 386.18L1570 385.25L1570.7 386.01L1571.4 387.49L1572.1 386.98L1572.8 387.32L1573.5 386.25L1574.2 386.48L1574.9 386.11L1575.6 386.81L1576.3 386.64L1577 386.86L1577.7 387.59L1578.4 386.17" fill="none" stroke="#cc0a0e" stroke-width="3.6" stroke-linejoin="round"/>
<rect x="1290" y="51" width="289" height="347" fill="none" stroke="#000" stroke-width="2"/>
<line x1="1322.7" y1="398" x2="1322.7" y2="392" stroke="#000" stroke-width="2"/>
<line x1="1354.8" y1="398" x2="1354.8" y2="394.5" stroke="#000" stroke-width="2"/>
<line x1="1386.9" y1="398" x2="1386.9" y2="392" stroke="#000" stroke-width="2"/>
<line x1="1419" y1="398" x2="1419" y2="394.5" stroke="#000" stroke-width="2"/>
<line x1="1451.1" y1="398" x2="1451.1" y2="392" stroke="#000" stroke-width="2"/>
<line x1="1483.2" y1="398" x2="1483.2" y2="394.5" stroke="#000" stroke-width="2"/>
<line x1="1515.3" y1="398" x2="1515.3" y2="392" stroke="#000" stroke-width="2"/>
<line x1="1547.4" y1="398" x2="1547.4" y2="394.5" stroke="#000" stroke-width="2"/>
<text x="1322.7" y="426.6" font-size="25" text-anchor="middle" font-weight="normal" fill="#000" >1.2</text>
<text x="1386.9" y="426.6" font-size="25" text-anchor="middle" font-weight="normal" fill="#000" >1.4</text>
<text x="1451.1" y="426.6" font-size="25" text-anchor="middle" font-weight="normal" fill="#000" >1.6</text>
<text x="1515.3" y="426.6" font-size="25" text-anchor="middle" font-weight="normal" fill="#000" >1.8</text>
<text x="1579.5" y="426.6" font-size="25" text-anchor="middle" font-weight="normal" fill="#000" >2.0</text>
<path d="M1390.3 107.5 L1396.5 107.5 L1396.5 130.5 L1403 130.5 L1393.4 149.5 L1383.8 130.5 L1390.3 130.5 Z" fill="#4e7d2f"/>
<text x="1385.5" y="101.5" font-size="25" text-anchor="start" font-weight="normal" fill="#000" >GaAs</text>
<text x="1464" y="92" font-size="25.8" text-anchor="start" font-weight="normal" fill="#000" >GaSeTe</text>
<text x="1310.5" y="343.7" font-size="25" text-anchor="start" font-weight="normal" fill="#000" >GaSeTe</text>
<text x="1562.5" y="224.7" font-size="25" text-anchor="middle" font-weight="normal" fill="#000" >II</text>
<text x="1564.2" y="378.3" font-size="25" text-anchor="middle" font-weight="normal" fill="#000" >I</text>
<text x="1435.3" y="462.8" font-size="25" text-anchor="middle" font-weight="normal" fill="#000" >Energy (eV)</text>
<text x="1278.6" y="224.2" font-size="20.8" text-anchor="middle" font-weight="normal" fill="#000" transform="rotate(-90 1278.6 224.2)">PL intensity (a.u.)</text>
<text x="1254.2" y="30.9" font-size="42" text-anchor="start" font-weight="bold" fill="#000" >d</text>
<rect x="1653" y="55.5" width="6.32" height="6.32" fill="#ff0000"/>
<rect x="1659.02" y="55.5" width="6.32" height="6.32" fill="#1612c4"/>
<rect x="1665.03" y="55.5" width="6.32" height="6.32" fill="#5060ef"/>
<rect x="1671.05" y="55.5" width="6.32" height="6.32" fill="#5060ef"/>
<rect x="1677.06" y="55.5" width="6.32" height="6.32" fill="#1612c4"/>
<rect x="1683.08" y="55.5" width="6.32" height="6.32" fill="#1f2cf0"/>
<rect x="1689.1" y="55.5" width="6.32" height="6.32" fill="#1612c4"/>
<rect x="1695.11" y="55.5" width="6.32" height="6.32" fill="#8894f3"/>
<rect x="1701.13" y="55.5" width="6.32" height="6.32" fill="#8894f3"/>
<rect x="1707.14" y="55.5" width="6.32" height="6.32" fill="#5060ef"/>
<rect x="1713.16" y="55.5" width="6.32" height="6.32" fill="#1612c4"/>
<rect x="1719.18" y="55.5" width="6.32" height="6.32" fill="#5060ef"/>
<rect x="1725.19" y="55.5" width="6.32" height="6.32" fill="#5060ef"/>
<rect x="1731.21" y="55.5" width="6.32" height="6.32" fill="#1612c4"/>
<rect x="1737.22" y="55.5" width="6.32" height="6.32" fill="#1f2cf0"/>
<rect x="1743.24" y="55.5" width="6.32" height="6.32" fill="#8894f3"/>
<rect x="1749.26" y="55.5" width="6.32" height="6.32" fill="#a6ecbc"/>
<rect x="1755.27" y="55.5" width="6.32" height="6.32" fill="#8894f3"/>
<rect x="1761.29" y="55.5" width="6.32" height="6.32" fill="#5060ef"/>
<rect x="1767.3" y="55.5" width="6.32" height="6.32" fill="#2fe22f"/>
<rect x="1773.32" y="55.5" width="6.32" height="6.32" fill="#c6cdf6"/>
<rect x="1779.34" y="55.5" width="6.32" height="6.32" fill="#a6ecbc"/>
<rect x="1785.35" y="55.5" width="6.32" height="6.32" fill="#f4f400"/>
<rect x="1791.37" y="55.5" width="6.32" height="6.32" fill="#ff8a00"/>
<rect x="1797.38" y="55.5" width="6.32" height="6.32" fill="#8894f3"/>
<rect x="1803.4" y="55.5" width="6.32" height="6.32" fill="#1f2cf0"/>
<rect x="1809.42" y="55.5" width="6.32" height="6.32" fill="#1f2cf0"/>
<rect x="1815.43" y="55.5" width="6.32" height="6.32" fill="#8894f3"/>
<rect x="1821.45" y="55.5" width="6.32" height="6.32" fill="#5060ef"/>
<rect x="1827.46" y="55.5" width="6.32" height="6.32" fill="#1f2cf0"/>
<rect x="1833.48" y="55.5" width="6.32" height="6.32" fill="#1f2cf0"/>
<rect x="1839.5" y="55.5" width="6.32" height="6.32" fill="#1612c4"/>
<rect x="1845.51" y="55.5" width="6.32" height="6.32" fill="#3d0b5e"/>
<rect x="1851.53" y="55.5" width="6.32" height="6.32" fill="#1612c4"/>
<rect x="1857.54" y="55.5" width="6.32" height="6.32" fill="#5060ef"/>
<rect x="1863.56" y="55.5" width="6.32" height="6.32" fill="#1612c4"/>
<rect x="1869.58" y="55.5" width="6.32" height="6.32" fill="#1f2cf0"/>
<rect x="1875.59" y="55.5" width="6.32" height="6.32" fill="#3d0b5e"/>
<rect x="1881.61" y="55.5" width="6.32" height="6.32" fill="#8894f3"/>
<rect x="1887.62" y="55.5" width="6.32" height="6.32" fill="#1612c4"/>
<rect x="1893.64" y="55.5" width="6.32" height="6.32" fill="#1612c4"/>
<rect x="1899.66" y="55.5" width="6.32" height="6.32" fill="#8894f3"/>
<rect x="1905.67" y="55.5" width="6.32" height="6.32" fill="#1f2cf0"/>
<rect x="1653" y="61.52" width="6.32" height="6.32" fill="#2fe22f"/>
<rect x="1659.02" y="61.52" width="6.32" height="6.32" fill="#5060ef"/>
<rect x="1665.03" y="61.52" width="6.32" height="6.32" fill="#1f2cf0"/>
<rect x="1671.05" y="61.52" width="6.32" height="6.32" fill="#3d0b5e"/>
<rect x="1677.06" y="61.52" width="6.32" height="6.32" fill="#c6cdf6"/>
<rect x="1683.08" y="61.52" width="6.32" height="6.32" fill="#1f2cf0"/>
<rect x="1689.1" y="61.52" width="6.32" height="6.32" fill="#1f2cf0"/>
<rect x="1695.11" y="61.52" width="6.32" height="6.32" fill="#8894f3"/>
<rect x="1701.13" y="61.52" width="6.32" height="6.32" fill="#8894f3"/>
<rect x="1707.14" y="61.52" width="6.32" height="6.32" fill="#1f2cf0"/>
<rect x="1713.16" y="61.52" width="6.32" height="6.32" fill="#c6cdf6"/>
<rect x="1719.18" y="61.52" width="6.32" height="6.32" fill="#1612c4"/>
<rect x="1725.19" y="61.52" width="6.32" height="6.32" fill="#1612c4"/>
<rect x="1731.21" y="61.52" width="6.32" height="6.32" fill="#1f2cf0"/>
<rect x="1737.22" y="61.52" width="6.32" height="6.32" fill="#5060ef"/>
<rect x="1743.24" y="61.52" width="6.32" height="6.32" fill="#a6ecbc"/>
<rect x="1749.26" y="61.52" width="6.32" height="6.32" fill="#a6ecbc"/>
<rect x="1755.27" y="61.52" width="6.32" height="6.32" fill="#2fe22f"/>
<rect x="1761.29" y="61.52" width="6.32" height="6.32" fill="#2fe22f"/>
<rect x="1767.3" y="61.52" width="6.32" height="6.32" fill="#2fe22f"/>
<rect x="1773.32" y="61.52" width="6.32" height="6.32" fill="#8894f3"/>
<rect x="1779.34" y="61.52" width="6.32" height="6.32" fill="#2fe22f"/>
<rect x="1785.35" y="61.52" width="6.32" height="6.32" fill="#a6ecbc"/>
<rect x="1791.37" y="61.52" width="6.32" height="6.32" fill="#5060ef"/>
<rect x="1797.38" y="61.52" width="6.32" height="6.32" fill="#c6cdf6"/>
<rect x="1803.4" y="61.52" width="6.32" height="6.32" fill="#c6cdf6"/>
<rect x="1809.42" y="61.52" width="6.32" height="6.32" fill="#1612c4"/>
<rect x="1815.43" y="61.52" width="6.32" height="6.32" fill="#5060ef"/>
<rect x="1821.45" y="61.52" width="6.32" height="6.32" fill="#1f2cf0"/>
<rect x="1827.46" y="61.52" width="6.32" height="6.32" fill="#8894f3"/>
<rect x="1833.48" y="61.52" width="6.32" height="6.32" fill="#5060ef"/>
<rect x="1839.5" y="61.52" width="6.32" height="6.32" fill="#1612c4"/>
<rect x="1845.51" y="61.52" width="6.32" height="6.32" fill="#8894f3"/>
<rect x="1851.53" y="61.52" width="6.32" height="6.32" fill="#c6cdf6"/>
<rect x="1857.54" y="61.52" width="6.32" height="6.32" fill="#8894f3"/>
<rect x="1863.56" y="61.52" width="6.32" height="6.32" fill="#1f2cf0"/>
<rect x="1869.58" y="61.52" width="6.32" height="6.32" fill="#1612c4"/>
<rect x="1875.59" y="61.52" width="6.32" height="6.32" fill="#1612c4"/>
<rect x="1881.61" y="61.52" width="6.32" height="6.32" fill="#8894f3"/>
<rect x="1887.62" y="61.52" width="6.32" height="6.32" fill="#1f2cf0"/>
<rect x="1893.64" y="61.52" width="6.32" height="6.32" fill="#1612c4"/>
<rect x="1899.66" y="61.52" width="6.32" height="6.32" fill="#8894f3"/>
<rect x="1905.67" y="61.52" width="6.32" height="6.32" fill="#5060ef"/>
<rect x="1653" y="67.54" width="6.32" height="6.32" fill="#5060ef"/>
<rect x="1659.02" y="67.54" width="6.32" height="6.32" fill="#1f2cf0"/>
<rect x="1665.03" y="67.54" width="6.32" height="6.32" fill="#c6cdf6"/>
<rect x="1671.05" y="67.54" width="6.32" height="6.32" fill="#3d0b5e"/>
<rect x="1677.06" y="67.54" width="6.32" height="6.32" fill="#1f2cf0"/>
<rect x="1683.08" y="67.54" width="6.32" height="6.32" fill="#5060ef"/>
<rect x="1689.1" y="67.54" width="6.32" height="6.32" fill="#1612c4"/>
<rect x="1695.11" y="67.54" width="6.32" height="6.32" fill="#5060ef"/>
<rect x="1701.13" y="67.54" width="6.32" height="6.32" fill="#5060ef"/>
<rect x="1707.14" y="67.54" width="6.32" height="6.32" fill="#1f2cf0"/>
<rect x="1713.16" y="67.54" width="6.32" height="6.32" fill="#c6cdf6"/>
<rect x="1719.18" y="67.54" width="6.32" height="6.32" fill="#8894f3"/>
<rect x="1725.19" y="67.54" width="6.32" height="6.32" fill="#3d0b5e"/>
<rect x="1731.21" y="67.54" width="6.32" height="6.32" fill="#5060ef"/>
<rect x="1737.22" y="67.54" width="6.32" height="6.32" fill="#5060ef"/>
<rect x="1743.24" y="67.54" width="6.32" height="6.32" fill="#c6cdf6"/>
<rect x="1749.26" y="67.54" width="6.32" height="6.32" fill="#c6cdf6"/>
<rect x="1755.27" y="67.54" width="6.32" height="6.32" fill="#2fe22f"/>
<rect x="1761.29" y="67.54" width="6.32" height="6.32" fill="#a6ecbc"/>
<rect x="1767.3" y="67.54" width="6.32" height="6.32" fill="#c6cdf6"/>
<rect x="1773.32" y="67.54" width="6.32" height="6.32" fill="#2fe22f"/>
<rect x="1779.34" y="67.54" width="6.32" height="6.32" fill="#c6cdf6"/>
<rect x="1785.35" y="67.54" width="6.32" height="6.32" fill="#c6cdf6"/>
<rect x="1791.37" y="67.54" width="6.32" height="6.32" fill="#1612c4"/>
<rect x="1797.38" y="67.54" width="6.32" height="6.32" fill="#1612c4"/>
<rect x="1803.4" y="67.54" width="6.32" height="6.32" fill="#8894f3"/>
<rect x="1809.42" y="67.54" width="6.32" height="6.32" fill="#1612c4"/>
<rect x="1815.43" y="67.54" width="6.32" height="6.32" fill="#8894f3"/>
<rect x="1821.45" y="67.54" width="6.32" height="6.32" fill="#3d0b5e"/>
<rect x="1827.46" y="67.54" width="6.32" height="6.32" fill="#5060ef"/>
<rect x="1833.48" y="67.54" width="6.32" height="6.32" fill="#8894f3"/>
<rect x="1839.5" y="67.54" width="6.32" height="6.32" fill="#1612c4"/>
<rect x="1845.51" y="67.54" width="6.32" height="6.32" fill="#1f2cf0"/>
<rect x="1851.53" y="67.54" width="6.32" height="6.32" fill="#8894f3"/>
<rect x="1857.54" y="67.54" width="6.32" height="6.32" fill="#3d0b5e"/>
<rect x="1863.56" y="67.54" width="6.32" height="6.32" fill="#5060ef"/>
<rect x="1869.58" y="67.54" width="6.32" height="6.32" fill="#5060ef"/>
<rect x="1875.59" y="67.54" width="6.32" height="6.32" fill="#1f2cf0"/>
<rect x="1881.61" y="67.54" width="6.32" height="6.32" fill="#5060ef"/>
<rect x="1887.62" y="67.54" width="6.32" height="6.32" fill="#1612c4"/>
<rect x="1893.64" y="67.54" width="6.32" height="6.32" fill="#1612c4"/>
<rect x="1899.66" y="67.54" width="6.32" height="6.32" fill="#1f2cf0"/>
<rect x="1905.67" y="67.54" width="6.32" height="6.32" fill="#1612c4"/>
<rect x="1653" y="73.56" width="6.32" height="6.32" fill="#2fe22f"/>
<rect x="1659.02" y="73.56" width="6.32" height="6.32" fill="#1f2cf0"/>
<rect x="1665.03" y="73.56" width="6.32" height="6.32" fill="#1612c4"/>
<rect x="1671.05" y="73.56" width="6.32" height="6.32" fill="#1f2cf0"/>
<rect x="1677.06" y="73.56" width="6.32" height="6.32" fill="#1f2cf0"/>
<rect x="1683.08" y="73.56" width="6.32" height="6.32" fill="#1f2cf0"/>
<rect x="1689.1" y="73.56" width="6.32" height="6.32" fill="#1612c4"/>
<rect x="1695.11" y="73.56" width="6.32" height="6.32" fill="#8894f3"/>
<rect x="1701.13" y="73.56" width="6.32" height="6.32" fill="#1f2cf0"/>
<rect x="1707.14" y="73.56" width="6.32" height="6.32" fill="#5060ef"/>
<rect x="1713.16" y="73.56" width="6.32" height="6.32" fill="#1612c4"/>
<rect x="1719.18" y="73.56" width="6.32" height="6.32" fill="#1612c4"/>
<rect x="1725.19" y="73.56" width="6.32" height="6.32" fill="#1612c4"/>
<rect x="1731.21" y="73.56" width="6.32" height="6.32" fill="#1612c4"/>
<rect x="1737.22" y="73.56" width="6.32" height="6.32" fill="#8894f3"/>
<rect x="1743.24" y="73.56" width="6.32" height="6.32" fill="#1f2cf0"/>
<rect x="1749.26" y="73.56" width="6.32" height="6.32" fill="#1612c4"/>
<rect x="1755.27" y="73.56" width="6.32" height="6.32" fill="#1612c4"/>
<rect x="1761.29" y="73.56" width="6.32" height="6.32" fill="#c6cdf6"/>
<rect x="1767.3" y="73.56" width="6.32" height="6.32" fill="#2fe22f"/>
<rect x="1773.32" y="73.56" width="6.32" height="6.32" fill="#c6cdf6"/>
<rect x="1779.34" y="73.56" width="6.32" height="6.32" fill="#1f2cf0"/>
<rect x="1785.35" y="73.56" width="6.32" height="6.32" fill="#1612c4"/>
<rect x="1791.37" y="73.56" width="6.32" height="6.32" fill="#1f2cf0"/>
<rect x="1797.38" y="73.56" width="6.32" height="6.32" fill="#1f2cf0"/>
<rect x="1803.4" y="73.56" width="6.32" height="6.32" fill="#5060ef"/>
<rect x="1809.42" y="73.56" width="6.32" height="6.32" fill="#c6cdf6"/>
<rect x="1815.43" y="73.56" width="6.32" height="6.32" fill="#1f2cf0"/>
<rect x="1821.45" y="73.56" width="6.32" height="6.32" fill="#1f2cf0"/>
<rect x="1827.46" y="73.56" width="6.32" height="6.32" fill="#1612c4"/>
<rect x="1833.48" y="73.56" width="6.32" height="6.32" fill="#3d0b5e"/>
<rect x="1839.5" y="73.56" width="6.32" height="6.32" fill="#1612c4"/>
<rect x="1845.51" y="73.56" width="6.32" height="6.32" fill="#8894f3"/>
<rect x="1851.53" y="73.56" width="6.32" height="6.32" fill="#8894f3"/>
<rect x="1857.54" y="73.56" width="6.32" height="6.32" fill="#1612c4"/>
<rect x="1863.56" y="73.56" width="6.32" height="6.32" fill="#5060ef"/>
<rect x="1869.58" y="73.56" width="6.32" height="6.32" fill="#1f2cf0"/>
<rect x="1875.59" y="73.56" width="6.32" height="6.32" fill="#5060ef"/>
<rect x="1881.61" y="73.56" width="6.32" height="6.32" fill="#5060ef"/>
<rect x="1887.62" y="73.56" width="6.32" height="6.32" fill="#1f2cf0"/>
<rect x="1893.64" y="73.56" width="6.32" height="6.32" fill="#c6cdf6"/>
<rect x="1899.66" y="73.56" width="6.32" height="6.32" fill="#1f2cf0"/>
<rect x="1905.67" y="73.56" width="6.32" height="6.32" fill="#5060ef"/>
<rect x="1653" y="79.58" width="6.32" height="6.32" fill="#1f2cf0"/>
<rect x="1659.02" y="79.58" width="6.32" height="6.32" fill="#5060ef"/>
<rect x="1665.03" y="79.58" width="6.32" height="6.32" fill="#c6cdf6"/>
<rect x="1671.05" y="79.58" width="6.32" height="6.32" fill="#8894f3"/>
<rect x="1677.06" y="79.58" width="6.32" height="6.32" fill="#8894f3"/>
<rect x="1683.08" y="79.58" width="6.32" height="6.32" fill="#1612c4"/>
<rect x="1689.1" y="79.58" width="6.32" height="6.32" fill="#5060ef"/>
<rect x="1695.11" y="79.58" width="6.32" height="6.32" fill="#1f2cf0"/>
<rect x="1701.13" y="79.58" width="6.32" height="6.32" fill="#1f2cf0"/>
<rect x="1707.14" y="79.58" width="6.32" height="6.32" fill="#3d0b5e"/>
<rect x="1713.16" y="79.58" width="6.32" height="6.32" fill="#8894f3"/>
<rect x="1719.18" y="79.58" width="6.32" height="6.32" fill="#5060ef"/>
<rect x="1725.19" y="79.58" width="6.32" height="6.32" fill="#1f2cf0"/>
<rect x="1731.21" y="79.58" width="6.32" height="6.32" fill="#8894f3"/>
<rect x="1737.22" y="79.58" width="6.32" height="6.32" fill="#c6cdf6"/>
<rect x="1743.24" y="79.58" width="6.32" height="6.32" fill="#5060ef"/>
<rect x="1749.26" y="79.58" width="6.32" height="6.32" fill="#1612c4"/>
<rect x="1755.27" y="79.58" width="6.32" height="6.32" fill="#1612c4"/>
<rect x="1761.29" y="79.58" width="6.32" height="6.32" fill="#8894f3"/>
<rect x="1767.3" y="79.58" width="6.32" height="6.32" fill="#a4f224"/>
<rect x="1773.32" y="79.58" width="6.32" height="6.32" fill="#c6cdf6"/>
<rect x="1779.34" y="79.58" width="6.32" height="6.32" fill="#8894f3"/>
<rect x="1785.35" y="79.58" width="6.32" height="6.32" fill="#8894f3"/>
<rect x="1791.37" y="79.58" width="6.32" height="6.32" fill="#1612c4"/>
<rect x="1797.38" y="79.58" width="6.32" height="6.32" fill="#5060ef"/>
<rect x="1803.4" y="79.58" width="6.32" height="6.32" fill="#1f2cf0"/>
<rect x="1809.42" y="79.58" width="6.32" height="6.32" fill="#8894f3"/>
<rect x="1815.43" y="79.58" width="6.32" height="6.32" fill="#1f2cf0"/>
<rect x="1821.45" y="79.58" width="6.32" height="6.32" fill="#8894f3"/>
<rect x="1827.46" y="79.58" width="6.32" height="6.32" fill="#5060ef"/>
<rect x="1833.48" y="79.58" width="6.32" height="6.32" fill="#5060ef"/>
<rect x="1839.5" y="79.58" width="6.32" height="6.32" fill="#1612c4"/>
<rect x="1845.51" y="79.58" width="6.32" height="6.32" fill="#1f2cf0"/>
<rect x="1851.53" y="79.58" width="6.32" height="6.32" fill="#3d0b5e"/>
<rect x="1857.54" y="79.58" width="6.32" height="6.32" fill="#5060ef"/>
<rect x="1863.56" y="79.58" width="6.32" height="6.32" fill="#c6cdf6"/>
<rect x="1869.58" y="79.58" width="6.32" height="6.32" fill="#8894f3"/>
<rect x="1875.59" y="79.58" width="6.32" height="6.32" fill="#3d0b5e"/>
<rect x="1881.61" y="79.58" width="6.32" height="6.32" fill="#1f2cf0"/>
<rect x="1887.62" y="79.58" width="6.32" height="6.32" fill="#1f2cf0"/>
<rect x="1893.64" y="79.58" width="6.32" height="6.32" fill="#1612c4"/>
<rect x="1899.66" y="79.58" width="6.32" height="6.32" fill="#5060ef"/>
<rect x="1905.67" y="79.58" width="6.32" height="6.32" fill="#5060ef"/>
<rect x="1653" y="85.6" width="6.32" height="6.32" fill="#a6ecbc"/>
<rect x="1659.02" y="85.6" width="6.32" height="6.32" fill="#5060ef"/>
<rect x="1665.03" y="85.6" width="6.32" height="6.32" fill="#5060ef"/>
<rect x="1671.05" y="85.6" width="6.32" height="6.32" fill="#1f2cf0"/>
<rect x="1677.06" y="85.6" width="6.32" height="6.32" fill="#3d0b5e"/>
<rect x="1683.08" y="85.6" width="6.32" height="6.32" fill="#1612c4"/>
<rect x="1689.1" y="85.6" width="6.32" height="6.32" fill="#5060ef"/>
<rect x="1695.11" y="85.6" width="6.32" height="6.32" fill="#c6cdf6"/>
<rect x="1701.13" y="85.6" width="6.32" height="6.32" fill="#3d0b5e"/>
<rect x="1707.14" y="85.6" width="6.32" height="6.32" fill="#5060ef"/>
<rect x="1713.16" y="85.6" width="6.32" height="6.32" fill="#8894f3"/>
<rect x="1719.18" y="85.6" width="6.32" height="6.32" fill="#1f2cf0"/>
<rect x="1725.19" y="85.6" width="6.32" height="6.32" fill="#1612c4"/>
<rect x="1731.21" y="85.6" width="6.32" height="6.32" fill="#1612c4"/>
<rect x="1737.22" y="85.6" width="6.32" height="6.32" fill="#1612c4"/>
<rect x="1743.24" y="85.6" width="6.32" height="6.32" fill="#5060ef"/>
<rect x="1749.26" y="85.6" width="6.32" height="6.32" fill="#5060ef"/>
<rect x="1755.27" y="85.6" width="6.32" height="6.32" fill="#8894f3"/>
<rect x="1761.29" y="85.6" width="6.32" height="6.32" fill="#8894f3"/>
<rect x="1767.3" y="85.6" width="6.32" height="6.32" fill="#c6cdf6"/>
<rect x="1773.32" y="85.6" width="6.32" height="6.32" fill="#c6cdf6"/>
<rect x="1779.34" y="85.6" width="6.32" height="6.32" fill="#a6ecbc"/>
<rect x="1785.35" y="85.6" width="6.32" height="6.32" fill="#c6cdf6"/>
<rect x="1791.37" y="85.6" width="6.32" height="6.32" fill="#8894f3"/>
<rect x="1797.38" y="85.6" width="6.32" height="6.32" fill="#1612c4"/>
<rect x="1803.4" y="85.6" width="6.32" height="6.32" fill="#1f2cf0"/>
<rect x="1809.42" y="85.6" width="6.32" height="6.32" fill="#1612c4"/>
<rect x="1815.43" y="85.6" width="6.32" height="6.32" fill="#1f2cf0"/>
<rect x="1821.45" y="85.6" width="6.32" height="6.32" fill="#5060ef"/>
<rect x="1827.46" y="85.6" width="6.32" height="6.32" fill="#1612c4"/>
<rect x="1833.48" y="85.6" width="6.32" height="6.32" fill="#1f2cf0"/>
<rect x="1839.5" y="85.6" width="6.32" height="6.32" fill="#1612c4"/>
<rect x="1845.51" y="85.6" width="6.32" height="6.32" fill="#5060ef"/>
<rect x="1851.53" y="85.6" width="6.32" height="6.32" fill="#8894f3"/>
<rect x="1857.54" y="85.6" width="6.32" height="6.32" fill="#1f2cf0"/>
<rect x="1863.56" y="85.6" width="6.32" height="6.32" fill="#1f2cf0"/>
<rect x="1869.58" y="85.6" width="6.32" height="6.32" fill="#1f2cf0"/>
<rect x="1875.59" y="85.6" width="6.32" height="6.32" fill="#1612c4"/>
<rect x="1881.61" y="85.6" width="6.32" height="6.32" fill="#1612c4"/>
<rect x="1887.62" y="85.6" width="6.32" height="6.32" fill="#1f2cf0"/>
<rect x="1893.64" y="85.6" width="6.32" height="6.32" fill="#c6cdf6"/>
<rect x="1899.66" y="85.6" width="6.32" height="6.32" fill="#3d0b5e"/>
<rect x="1905.67" y="85.6" width="6.32" height="6.32" fill="#5060ef"/>
<rect x="1653" y="91.62" width="6.32" height="6.32" fill="#5060ef"/>
<rect x="1659.02" y="91.62" width="6.32" height="6.32" fill="#5060ef"/>
<rect x="1665.03" y="91.62" width="6.32" height="6.32" fill="#1f2cf0"/>
<rect x="1671.05" y="91.62" width="6.32" height="6.32" fill="#5060ef"/>
<rect x="1677.06" y="91.62" width="6.32" height="6.32" fill="#5060ef"/>
<rect x="1683.08" y="91.62" width="6.32" height="6.32" fill="#1612c4"/>
<rect x="1689.1" y="91.62" width="6.32" height="6.32" fill="#5060ef"/>
<rect x="1695.11" y="91.62" width="6.32" height="6.32" fill="#8894f3"/>
<rect x="1701.13" y="91.62" width="6.32" height="6.32" fill="#1f2cf0"/>
<rect x="1707.14" y="91.62" width="6.32" height="6.32" fill="#8894f3"/>
<rect x="1713.16" y="91.62" width="6.32" height="6.32" fill="#1f2cf0"/>
<rect x="1719.18" y="91.62" width="6.32" height="6.32" fill="#8894f3"/>
<rect x="1725.19" y="91.62" width="6.32" height="6.32" fill="#1f2cf0"/>
<rect x="1731.21" y="91.62" width="6.32" height="6.32" fill="#5060ef"/>
<rect x="1737.22" y="91.62" width="6.32" height="6.32" fill="#3d0b5e"/>
<rect x="1743.24" y="91.62" width="6.32" height="6.32" fill="#5060ef"/>
<rect x="1749.26" y="91.62" width="6.32" height="6.32" fill="#5060ef"/>
<rect x="1755.27" y="91.62" width="6.32" height="6.32" fill="#c6cdf6"/>
<rect x="1761.29" y="91.62" width="6.32" height="6.32" fill="#2fe22f"/>
<rect x="1767.3" y="91.62" width="6.32" height="6.32" fill="#f4f400"/>
<rect x="1773.32" y="91.62" width="6.32" height="6.32" fill="#ff0000"/>
<rect x="1779.34" y="91.62" width="6.32" height="6.32" fill="#ff0000"/>
<rect x="1785.35" y="91.62" width="6.32" height="6.32" fill="#ff0000"/>
<rect x="1791.37" y="91.62" width="6.32" height="6.32" fill="#ff0000"/>
<rect x="1797.38" y="91.62" width="6.32" height="6.32" fill="#ff0000"/>
<rect x="1803.4" y="91.62" width="6.32" height="6.32" fill="#f4f400"/>
<rect x="1809.42" y="91.62" width="6.32" height="6.32" fill="#a4f224"/>
<rect x="1815.43" y="91.62" width="6.32" height="6.32" fill="#2fe22f"/>
<rect x="1821.45" y="91.62" width="6.32" height="6.32" fill="#a4f224"/>
<rect x="1827.46" y="91.62" width="6.32" height="6.32" fill="#ff8a00"/>
<rect x="1833.48" y="91.62" width="6.32" height="6.32" fill="#2fe22f"/>
<rect x="1839.5" y="91.62" width="6.32" height="6.32" fill="#2fe22f"/>
<rect x="1845.51" y="91.62" width="6.32" height="6.32" fill="#8894f3"/>
<rect x="1851.53" y="91.62" width="6.32" height="6.32" fill="#2fe22f"/>
<rect x="1857.54" y="91.62" width="6.32" height="6.32" fill="#c6cdf6"/>
<rect x="1863.56" y="91.62" width="6.32" height="6.32" fill="#5060ef"/>
<rect x="1869.58" y="91.62" width="6.32" height="6.32" fill="#5060ef"/>
<rect x="1875.59" y="91.62" width="6.32" height="6.32" fill="#c6cdf6"/>
<rect x="1881.61" y="91.62" width="6.32" height="6.32" fill="#c6cdf6"/>
<rect x="1887.62" y="91.62" width="6.32" height="6.32" fill="#8894f3"/>
<rect x="1893.64" y="91.62" width="6.32" height="6.32" fill="#1612c4"/>
<rect x="1899.66" y="91.62" width="6.32" height="6.32" fill="#1f2cf0"/>
<rect x="1905.67" y="91.62" width="6.32" height="6.32" fill="#5060ef"/>
<rect x="1653" y="97.64" width="6.32" height="6.32" fill="#1f2cf0"/>
<rect x="1659.02" y="97.64" width="6.32" height="6.32" fill="#1612c4"/>
<rect x="1665.03" y="97.64" width="6.32" height="6.32" fill="#5060ef"/>
<rect x="1671.05" y="97.64" width="6.32" height="6.32" fill="#5060ef"/>
<rect x="1677.06" y="97.64" width="6.32" height="6.32" fill="#5060ef"/>
<rect x="1683.08" y="97.64" width="6.32" height="6.32" fill="#1f2cf0"/>
<rect x="1689.1" y="97.64" width="6.32" height="6.32" fill="#5060ef"/>
<rect x="1695.11" y="97.64" width="6.32" height="6.32" fill="#8894f3"/>
<rect x="1701.13" y="97.64" width="6.32" height="6.32" fill="#1f2cf0"/>
<rect x="1707.14" y="97.64" width="6.32" height="6.32" fill="#5060ef"/>
<rect x="1713.16" y="97.64" width="6.32" height="6.32" fill="#5060ef"/>
<rect x="1719.18" y="97.64" width="6.32" height="6.32" fill="#1612c4"/>
<rect x="1725.19" y="97.64" width="6.32" height="6.32" fill="#c6cdf6"/>
<rect x="1731.21" y="97.64" width="6.32" height="6.32" fill="#5060ef"/>
<rect x="1737.22" y="97.64" width="6.32" height="6.32" fill="#1f2cf0"/>
<rect x="1743.24" y="97.64" width="6.32" height="6.32" fill="#1612c4"/>
<rect x="1749.26" y="97.64" width="6.32" height="6.32" fill="#8894f3"/>
<rect x="1755.27" y="97.64" width="6.32" height="6.32" fill="#2fe22f"/>
<rect x="1761.29" y="97.64" width="6.32" height="6.32" fill="#2fe22f"/>
<rect x="1767.3" y="97.64" width="6.32" height="6.32" fill="#ff0000"/>
<rect x="1773.32" y="97.64" width="6.32" height="6.32" fill="#ff0000"/>
<rect x="1779.34" y="97.64" width="6.32" height="6.32" fill="#ff0000"/>
<rect x="1785.35" y="97.64" width="6.32" height="6.32" fill="#ff0000"/>
<rect x="1791.37" y="97.64" width="6.32" height="6.32" fill="#ff0000"/>
<rect x="1797.38" y="97.64" width="6.32" height="6.32" fill="#ff0000"/>
<rect x="1803.4" y="97.64" width="6.32" height="6.32" fill="#ff0000"/>
<rect x="1809.42" y="97.64" width="6.32" height="6.32" fill="#ff0000"/>
<rect x="1815.43" y="97.64" width="6.32" height="6.32" fill="#ff0000"/>
<rect x="1821.45" y="97.64" width="6.32" height="6.32" fill="#ff0000"/>
<rect x="1827.46" y="97.64" width="6.32" height="6.32" fill="#ff0000"/>
<rect x="1833.48" y="97.64" width="6.32" height="6.32" fill="#ff0000"/>
<rect x="1839.5" y="97.64" width="6.32" height="6.32" fill="#ff0000"/>
<rect x="1845.51" y="97.64" width="6.32" height="6.32" fill="#ff0000"/>
<rect x="1851.53" y="97.64" width="6.32" height="6.32" fill="#ff8a00"/>
<rect x="1857.54" y="97.64" width="6.32" height="6.32" fill="#ff8a00"/>
<rect x="1863.56" y="97.64" width="6.32" height="6.32" fill="#ff0000"/>
<rect x="1869.58" y="97.64" width="6.32" height="6.32" fill="#a4f224"/>
<rect x="1875.59" y="97.64" width="6.32" height="6.32" fill="#ff0000"/>
<rect x="1881.61" y="97.64" width="6.32" height="6.32" fill="#ff0000"/>
<rect x="1887.62" y="97.64" width="6.32" height="6.32" fill="#ff0000"/>
<rect x="1893.64" y="97.64" width="6.32" height="6.32" fill="#ff0000"/>
<rect x="1899.66" y="97.64" width="6.32" height="6.32" fill="#ff0000"/>
<rect x="1905.67" y="97.64" width="6.32" height="6.32" fill="#ff0000"/>
<rect x="1653" y="103.66" width="6.32" height="6.32" fill="#c6cdf6"/>
<rect x="1659.02" y="103.66" width="6.32" height="6.32" fill="#5060ef"/>
<rect x="1665.03" y="103.66" width="6.32" height="6.32" fill="#5060ef"/>
<rect x="1671.05" y="103.66" width="6.32" height="6.32" fill="#5060ef"/>
<rect x="1677.06" y="103.66" width="6.32" height="6.32" fill="#5060ef"/>
<rect x="1683.08" y="103.66" width="6.32" height="6.32" fill="#1f2cf0"/>
<rect x="1689.1" y="103.66" width="6.32" height="6.32" fill="#1f2cf0"/>
<rect x="1695.11" y="103.66" width="6.32" height="6.32" fill="#c6cdf6"/>
<rect x="1701.13" y="103.66" width="6.32" height="6.32" fill="#1612c4"/>
<rect x="1707.14" y="103.66" width="6.32" height="6.32" fill="#1f2cf0"/>
<rect x="1713.16" y="103.66" width="6.32" height="6.32" fill="#a6ecbc"/>
<rect x="1719.18" y="103.66" width="6.32" height="6.32" fill="#1612c4"/>
<rect x="1725.19" y="103.66" width="6.32" height="6.32" fill="#5060ef"/>
<rect x="1731.21" y="103.66" width="6.32" height="6.32" fill="#3d0b5e"/>
<rect x="1737.22" y="103.66" width="6.32" height="6.32" fill="#c6cdf6"/>
<rect x="1743.24" y="103.66" width="6.32" height="6.32" fill="#5060ef"/>
<rect x="1749.26" y="103.66" width="6.32" height="6.32" fill="#1f2cf0"/>
<rect x="1755.27" y="103.66" width="6.32" height="6.32" fill="#5060ef"/>
<rect x="1761.29" y="103.66" width="6.32" height="6.32" fill="#8894f3"/>
<rect x="1767.3" y="103.66" width="6.32" height="6.32" fill="#2fe22f"/>
<rect x="1773.32" y="103.66" width="6.32" height="6.32" fill="#2fe22f"/>
<rect x="1779.34" y="103.66" width="6.32" height="6.32" fill="#ff8a00"/>
<rect x="1785.35" y="103.66" width="6.32" height="6.32" fill="#ff0000"/>
<rect x="1791.37" y="103.66" width="6.32" height="6.32" fill="#ff0000"/>
<rect x="1797.38" y="103.66" width="6.32" height="6.32" fill="#ff0000"/>
<rect x="1803.4" y="103.66" width="6.32" height="6.32" fill="#ff0000"/>
<rect x="1809.42" y="103.66" width="6.32" height="6.32" fill="#ff0000"/>
<rect x="1815.43" y="103.66" width="6.32" height="6.32" fill="#ff0000"/>
<rect x="1821.45" y="103.66" width="6.32" height="6.32" fill="#ff0000"/>
<rect x="1827.46" y="103.66" width="6.32" height="6.32" fill="#ff0000"/>
<rect x="1833.48" y="103.66" width="6.32" height="6.32" fill="#ff0000"/>
<rect x="1839.5" y="103.66" width="6.32" height="6.32" fill="#ff0000"/>
<rect x="1845.51" y="103.66" width="6.32" height="6.32" fill="#ff0000"/>
<rect x="1851.53" y="103.66" width="6.32" height="6.32" fill="#ff0000"/>
<rect x="1857.54" y="103.66" width="6.32" height="6.32" fill="#ff0000"/>
<rect x="1863.56" y="103.66" width="6.32" height="6.32" fill="#ff0000"/>
<rect x="1869.58" y="103.66" width="6.32" height="6.32" fill="#ff0000"/>
<rect x="1875.59" y="103.66" width="6.32" height="6.32" fill="#ff0000"/>
<rect x="1881.61" y="103.66" width="6.32" height="6.32" fill="#ff0000"/>
<rect x="1887.62" y="103.66" width="6.32" height="6.32" fill="#ff0000"/>
<rect x="1893.64" y="103.66" width="6.32" height="6.32" fill="#ff0000"/>
<rect x="1899.66" y="103.66" width="6.32" height="6.32" fill="#ff0000"/>
<rect x="1905.67" y="103.66" width="6.32" height="6.32" fill="#ff0000"/>
<rect x="1653" y="109.68" width="6.32" height="6.32" fill="#5060ef"/>
<rect x="1659.02" y="109.68" width="6.32" height="6.32" fill="#1612c4"/>
<rect x="1665.03" y="109.68" width="6.32" height="6.32" fill="#5060ef"/>
<rect x="1671.05" y="109.68" width="6.32" height="6.32" fill="#1612c4"/>
<rect x="1677.06" y="109.68" width="6.32" height="6.32" fill="#1612c4"/>
<rect x="1683.08" y="109.68" width="6.32" height="6.32" fill="#1f2cf0"/>
<rect x="1689.1" y="109.68" width="6.32" height="6.32" fill="#5060ef"/>
<rect x="1695.11" y="109.68" width="6.32" height="6.32" fill="#8894f3"/>
<rect x="1701.13" y="109.68" width="6.32" height="6.32" fill="#1612c4"/>
<rect x="1707.14" y="109.68" width="6.32" height="6.32" fill="#5060ef"/>
<rect x="1713.16" y="109.68" width="6.32" height="6.32" fill="#1612c4"/>
<rect x="1719.18" y="109.68" width="6.32" height="6.32" fill="#1612c4"/>
<rect x="1725.19" y="109.68" width="6.32" height="6.32" fill="#8894f3"/>
<rect x="1731.21" y="109.68" width="6.32" height="6.32" fill="#1f2cf0"/>
<rect x="1737.22" y="109.68" width="6.32" height="6.32" fill="#8894f3"/>
<rect x="1743.24" y="109.68" width="6.32" height="6.32" fill="#1612c4"/>
<rect x="1749.26" y="109.68" width="6.32" height="6.32" fill="#5060ef"/>
<rect x="1755.27" y="109.68" width="6.32" height="6.32" fill="#a6ecbc"/>
<rect x="1761.29" y="109.68" width="6.32" height="6.32" fill="#1612c4"/>
<rect x="1767.3" y="109.68" width="6.32" height="6.32" fill="#5060ef"/>
<rect x="1773.32" y="109.68" width="6.32" height="6.32" fill="#5060ef"/>
<rect x="1779.34" y="109.68" width="6.32" height="6.32" fill="#8894f3"/>
<rect x="1785.35" y="109.68" width="6.32" height="6.32" fill="#2fe22f"/>
<rect x="1791.37" y="109.68" width="6.32" height="6.32" fill="#2fe22f"/>
<rect x="1797.38" y="109.68" width="6.32" height="6.32" fill="#a6ecbc"/>
<rect x="1803.4" y="109.68" width="6.32" height="6.32" fill="#2fe22f"/>
<rect x="1809.42" y="109.68" width="6.32" height="6.32" fill="#2fe22f"/>
<rect x="1815.43" y="109.68" width="6.32" height="6.32" fill="#ff8a00"/>
<rect x="1821.45" y="109.68" width="6.32" height="6.32" fill="#ff8a00"/>
<rect x="1827.46" y="109.68" width="6.32" height="6.32" fill="#ff0000"/>
<rect x="1833.48" y="109.68" width="6.32" height="6.32" fill="#ff8a00"/>
<rect x="1839.5" y="109.68" width="6.32" height="6.32" fill="#ff0000"/>
<rect x="1845.51" y="109.68" width="6.32" height="6.32" fill="#ff8a00"/>
<rect x="1851.53" y="109.68" width="6.32" height="6.32" fill="#ff0000"/>
<rect x="1857.54" y="109.68" width="6.32" height="6.32" fill="#f4f400"/>
<rect x="1863.56" y="109.68" width="6.32" height="6.32" fill="#ff8a00"/>
<rect x="1869.58" y="109.68" width="6.32" height="6.32" fill="#ff0000"/>
<rect x="1875.59" y="109.68" width="6.32" height="6.32" fill="#ff0000"/>
<rect x="1881.61" y="109.68" width="6.32" height="6.32" fill="#ff0000"/>
<rect x="1887.62" y="109.68" width="6.32" height="6.32" fill="#ff0000"/>
<rect x="1893.64" y="109.68" width="6.32" height="6.32" fill="#ff0000"/>
<rect x="1899.66" y="109.68" width="6.32" height="6.32" fill="#ff0000"/>
<rect x="1905.67" y="109.68" width="6.32" height="6.32" fill="#ff0000"/>
<rect x="1653" y="115.7" width="6.32" height="6.32" fill="#c6cdf6"/>
<rect x="1659.02" y="115.7" width="6.32" height="6.32" fill="#1612c4"/>
<rect x="1665.03" y="115.7" width="6.32" height="6.32" fill="#1f2cf0"/>
<rect x="1671.05" y="115.7" width="6.32" height="6.32" fill="#1f2cf0"/>
<rect x="1677.06" y="115.7" width="6.32" height="6.32" fill="#5060ef"/>
<rect x="1683.08" y="115.7" width="6.32" height="6.32" fill="#5060ef"/>
<rect x="1689.1" y="115.7" width="6.32" height="6.32" fill="#3d0b5e"/>
<rect x="1695.11" y="115.7" width="6.32" height="6.32" fill="#1612c4"/>
<rect x="1701.13" y="115.7" width="6.32" height="6.32" fill="#1612c4"/>
<rect x="1707.14" y="115.7" width="6.32" height="6.32" fill="#8894f3"/>
<rect x="1713.16" y="115.7" width="6.32" height="6.32" fill="#5060ef"/>
<rect x="1719.18" y="115.7" width="6.32" height="6.32" fill="#1f2cf0"/>
<rect x="1725.19" y="115.7" width="6.32" height="6.32" fill="#1612c4"/>
<rect x="1731.21" y="115.7" width="6.32" height="6.32" fill="#5060ef"/>
<rect x="1737.22" y="115.7" width="6.32" height="6.32" fill="#8894f3"/>
<rect x="1743.24" y="115.7" width="6.32" height="6.32" fill="#1612c4"/>
<rect x="1749.26" y="115.7" width="6.32" height="6.32" fill="#c6cdf6"/>
<rect x="1755.27" y="115.7" width="6.32" height="6.32" fill="#c6cdf6"/>
<rect x="1761.29" y="115.7" width="6.32" height="6.32" fill="#1f2cf0"/>
<rect x="1767.3" y="115.7" width="6.32" height="6.32" fill="#1f2cf0"/>
<rect x="1773.32" y="115.7" width="6.32" height="6.32" fill="#5060ef"/>
<rect x="1779.34" y="115.7" width="6.32" height="6.32" fill="#1f2cf0"/>
<rect x="1785.35" y="115.7" width="6.32" height="6.32" fill="#5060ef"/>
<rect x="1791.37" y="115.7" width="6.32" height="6.32" fill="#8894f3"/>
<rect x="1797.38" y="115.7" width="6.32" height="6.32" fill="#c6cdf6"/>
<rect x="1803.4" y="115.7" width="6.32" height="6.32" fill="#c6cdf6"/>
<rect x="1809.42" y="115.7" width="6.32" height="6.32" fill="#c6cdf6"/>
<rect x="1815.43" y="115.7" width="6.32" height="6.32" fill="#c6cdf6"/>
<rect x="1821.45" y="115.7" width="6.32" height="6.32" fill="#a6ecbc"/>
<rect x="1827.46" y="115.7" width="6.32" height="6.32" fill="#2fe22f"/>
<rect x="1833.48" y="115.7" width="6.32" height="6.32" fill="#c6cdf6"/>
<rect x="1839.5" y="115.7" width="6.32" height="6.32" fill="#c6cdf6"/>
<rect x="1845.51" y="115.7" width="6.32" height="6.32" fill="#c6cdf6"/>
<rect x="1851.53" y="115.7" width="6.32" height="6.32" fill="#2fe22f"/>
<rect x="1857.54" y="115.7" width="6.32" height="6.32" fill="#c6cdf6"/>
<rect x="1863.56" y="115.7" width="6.32" height="6.32" fill="#c6cdf6"/>
<rect x="1869.58" y="115.7" width="6.32" height="6.32" fill="#c6cdf6"/>
<rect x="1875.59" y="115.7" width="6.32" height="6.32" fill="#2fe22f"/>
<rect x="1881.61" y="115.7" width="6.32" height="6.32" fill="#2fe22f"/>
<rect x="1887.62" y="115.7" width="6.32" height="6.32" fill="#c6cdf6"/>
<rect x="1893.64" y="115.7" width="6.32" height="6.32" fill="#c6cdf6"/>
<rect x="1899.66" y="115.7" width="6.32" height="6.32" fill="#c6cdf6"/>
<rect x="1905.67" y="115.7" width="6.32" height="6.32" fill="#a6ecbc"/>
<rect x="1653" y="121.72" width="6.32" height="6.32" fill="#1f2cf0"/>
<rect x="1659.02" y="121.72" width="6.32" height="6.32" fill="#1f2cf0"/>
<rect x="1665.03" y="121.72" width="6.32" height="6.32" fill="#5060ef"/>
<rect x="1671.05" y="121.72" width="6.32" height="6.32" fill="#5060ef"/>
<rect x="1677.06" y="121.72" width="6.32" height="6.32" fill="#1f2cf0"/>
<rect x="1683.08" y="121.72" width="6.32" height="6.32" fill="#1f2cf0"/>
<rect x="1689.1" y="121.72" width="6.32" height="6.32" fill="#1612c4"/>
<rect x="1695.11" y="121.72" width="6.32" height="6.32" fill="#1f2cf0"/>
<rect x="1701.13" y="121.72" width="6.32" height="6.32" fill="#1f2cf0"/>
<rect x="1707.14" y="121.72" width="6.32" height="6.32" fill="#1f2cf0"/>
<rect x="1713.16" y="121.72" width="6.32" height="6.32" fill="#c6cdf6"/>
<rect x="1719.18" y="121.72" width="6.32" height="6.32" fill="#1f2cf0"/>
<rect x="1725.19" y="121.72" width="6.32" height="6.32" fill="#1f2cf0"/>
<rect x="1731.21" y="121.72" width="6.32" height="6.32" fill="#1f2cf0"/>
<rect x="1737.22" y="121.72" width="6.32" height="6.32" fill="#1f2cf0"/>
<rect x="1743.24" y="121.72" width="6.32" height="6.32" fill="#8894f3"/>
<rect x="1749.26" y="121.72" width="6.32" height="6.32" fill="#a6ecbc"/>
<rect x="1755.27" y="121.72" width="6.32" height="6.32" fill="#1f2cf0"/>
<rect x="1761.29" y="121.72" width="6.32" height="6.32" fill="#1612c4"/>
<rect x="1767.3" y="121.72" width="6.32" height="6.32" fill="#8894f3"/>
<rect x="1773.32" y="121.72" width="6.32" height="6.32" fill="#1f2cf0"/>
<rect x="1779.34" y="121.72" width="6.32" height="6.32" fill="#5060ef"/>
<rect x="1785.35" y="121.72" width="6.32" height="6.32" fill="#3d0b5e"/>
<rect x="1791.37" y="121.72" width="6.32" height="6.32" fill="#8894f3"/>
<rect x="1797.38" y="121.72" width="6.32" height="6.32" fill="#1f2cf0"/>
<rect x="1803.4" y="121.72" width="6.32" height="6.32" fill="#1f2cf0"/>
<rect x="1809.42" y="121.72" width="6.32" height="6.32" fill="#1612c4"/>
<rect x="1815.43" y="121.72" width="6.32" height="6.32" fill="#1f2cf0"/>
<rect x="1821.45" y="121.72" width="6.32" height="6.32" fill="#8894f3"/>
<rect x="1827.46" y="121.72" width="6.32" height="6.32" fill="#8894f3"/>
<rect x="1833.48" y="121.72" width="6.32" height="6.32" fill="#1f2cf0"/>
<rect x="1839.5" y="121.72" width="6.32" height="6.32" fill="#5060ef"/>
<rect x="1845.51" y="121.72" width="6.32" height="6.32" fill="#1f2cf0"/>
<rect x="1851.53" y="121.72" width="6.32" height="6.32" fill="#1f2cf0"/>
<rect x="1857.54" y="121.72" width="6.32" height="6.32" fill="#1f2cf0"/>
<rect x="1863.56" y="121.72" width="6.32" height="6.32" fill="#1612c4"/>
<rect x="1869.58" y="121.72" width="6.32" height="6.32" fill="#1f2cf0"/>
<rect x="1875.59" y="121.72" width="6.32" height="6.32" fill="#5060ef"/>
<rect x="1881.61" y="121.72" width="6.32" height="6.32" fill="#5060ef"/>
<rect x="1887.62" y="121.72" width="6.32" height="6.32" fill="#3d0b5e"/>
<rect x="1893.64" y="121.72" width="6.32" height="6.32" fill="#5060ef"/>
<rect x="1899.66" y="121.72" width="6.32" height="6.32" fill="#8894f3"/>
<rect x="1905.67" y="121.72" width="6.32" height="6.32" fill="#1f2cf0"/>
<rect x="1653" y="127.74" width="6.32" height="6.32" fill="#3d0b5e"/>
<rect x="1659.02" y="127.74" width="6.32" height="6.32" fill="#5060ef"/>
<rect x="1665.03" y="127.74" width="6.32" height="6.32" fill="#1612c4"/>
<rect x="1671.05" y="127.74" width="6.32" height="6.32" fill="#5060ef"/>
<rect x="1677.06" y="127.74" width="6.32" height="6.32" fill="#1f2cf0"/>
<rect x="1683.08" y="127.74" width="6.32" height="6.32" fill="#5060ef"/>
<rect x="1689.1" y="127.74" width="6.32" height="6.32" fill="#1612c4"/>
<rect x="1695.11" y="127.74" width="6.32" height="6.32" fill="#1f2cf0"/>
<rect x="1701.13" y="127.74" width="6.32" height="6.32" fill="#1f2cf0"/>
<rect x="1707.14" y="127.74" width="6.32" height="6.32" fill="#5060ef"/>
<rect x="1713.16" y="127.74" width="6.32" height="6.32" fill="#1612c4"/>
<rect x="1719.18" y="127.74" width="6.32" height="6.32" fill="#c6cdf6"/>
<rect x="1725.19" y="127.74" width="6.32" height="6.32" fill="#1612c4"/>
<rect x="1731.21" y="127.74" width="6.32" height="6.32" fill="#1f2cf0"/>
<rect x="1737.22" y="127.74" width="6.32" height="6.32" fill="#a6ecbc"/>
<rect x="1743.24" y="127.74" width="6.32" height="6.32" fill="#c6cdf6"/>
<rect x="1749.26" y="127.74" width="6.32" height="6.32" fill="#1f2cf0"/>
<rect x="1755.27" y="127.74" width="6.32" height="6.32" fill="#5060ef"/>
<rect x="1761.29" y="127.74" width="6.32" height="6.32" fill="#5060ef"/>
<rect x="1767.3" y="127.74" width="6.32" height="6.32" fill="#1612c4"/>
<rect x="1773.32" y="127.74" width="6.32" height="6.32" fill="#1612c4"/>
<rect x="1779.34" y="127.74" width="6.32" height="6.32" fill="#1f2cf0"/>
<rect x="1785.35" y="127.74" width="6.32" height="6.32" fill="#5060ef"/>
<rect x="1791.37" y="127.74" width="6.32" height="6.32" fill="#1f2cf0"/>
<rect x="1797.38" y="127.74" width="6.32" height="6.32" fill="#8894f3"/>
<rect x="1803.4" y="127.74" width="6.32" height="6.32" fill="#5060ef"/>
<rect x="1809.42" y="127.74" width="6.32" height="6.32" fill="#5060ef"/>
<rect x="1815.43" y="127.74" width="6.32" height="6.32" fill="#5060ef"/>
<rect x="1821.45" y="127.74" width="6.32" height="6.32" fill="#5060ef"/>
<rect x="1827.46" y="127.74" width="6.32" height="6.32" fill="#1f2cf0"/>
<rect x="1833.48" y="127.74" width="6.32" height="6.32" fill="#1612c4"/>
<rect x="1839.5" y="127.74" width="6.32" height="6.32" fill="#1f2cf0"/>
<rect x="1845.51" y="127.74" width="6.32" height="6.32" fill="#1f2cf0"/>
<rect x="1851.53" y="127.74" width="6.32" height="6.32" fill="#1612c4"/>
<rect x="1857.54" y="127.74" width="6.32" height="6.32" fill="#1f2cf0"/>
<rect x="1863.56" y="127.74" width="6.32" height="6.32" fill="#5060ef"/>
<rect x="1869.58" y="127.74" width="6.32" height="6.32" fill="#1612c4"/>
<rect x="1875.59" y="127.74" width="6.32" height="6.32" fill="#1612c4"/>
<rect x="1881.61" y="127.74" width="6.32" height="6.32" fill="#1612c4"/>
<rect x="1887.62" y="127.74" width="6.32" height="6.32" fill="#1612c4"/>
<rect x="1893.64" y="127.74" width="6.32" height="6.32" fill="#c6cdf6"/>
<rect x="1899.66" y="127.74" width="6.32" height="6.32" fill="#3d0b5e"/>
<rect x="1905.67" y="127.74" width="6.32" height="6.32" fill="#1612c4"/>
<rect x="1653" y="133.76" width="6.32" height="6.32" fill="#1612c4"/>
<rect x="1659.02" y="133.76" width="6.32" height="6.32" fill="#1f2cf0"/>
<rect x="1665.03" y="133.76" width="6.32" height="6.32" fill="#3d0b5e"/>
<rect x="1671.05" y="133.76" width="6.32" height="6.32" fill="#1f2cf0"/>
<rect x="1677.06" y="133.76" width="6.32" height="6.32" fill="#1612c4"/>
<rect x="1683.08" y="133.76" width="6.32" height="6.32" fill="#1612c4"/>
<rect x="1689.1" y="133.76" width="6.32" height="6.32" fill="#5060ef"/>
<rect x="1695.11" y="133.76" width="6.32" height="6.32" fill="#1612c4"/>
<rect x="1701.13" y="133.76" width="6.32" height="6.32" fill="#5060ef"/>
<rect x="1707.14" y="133.76" width="6.32" height="6.32" fill="#1f2cf0"/>
<rect x="1713.16" y="133.76" width="6.32" height="6.32" fill="#1f2cf0"/>
<rect x="1719.18" y="133.76" width="6.32" height="6.32" fill="#8894f3"/>
<rect x="1725.19" y="133.76" width="6.32" height="6.32" fill="#1612c4"/>
<rect x="1731.21" y="133.76" width="6.32" height="6.32" fill="#2fe22f"/>
<rect x="1737.22" y="133.76" width="6.32" height="6.32" fill="#c6cdf6"/>
<rect x="1743.24" y="133.76" width="6.32" height="6.32" fill="#8894f3"/>
<rect x="1749.26" y="133.76" width="6.32" height="6.32" fill="#c6cdf6"/>
<rect x="1755.27" y="133.76" width="6.32" height="6.32" fill="#5060ef"/>
<rect x="1761.29" y="133.76" width="6.32" height="6.32" fill="#5060ef"/>
<rect x="1767.3" y="133.76" width="6.32" height="6.32" fill="#5060ef"/>
<rect x="1773.32" y="133.76" width="6.32" height="6.32" fill="#1612c4"/>
<rect x="1779.34" y="133.76" width="6.32" height="6.32" fill="#c6cdf6"/>
<rect x="1785.35" y="133.76" width="6.32" height="6.32" fill="#8894f3"/>
<rect x="1791.37" y="133.76" width="6.32" height="6.32" fill="#1612c4"/>
<rect x="1797.38" y="133.76" width="6.32" height="6.32" fill="#1f2cf0"/>
<rect x="1803.4" y="133.76" width="6.32" height="6.32" fill="#3d0b5e"/>
<rect x="1809.42" y="133.76" width="6.32" height="6.32" fill="#8894f3"/>
<rect x="1815.43" y="133.76" width="6.32" height="6.32" fill="#8894f3"/>
<rect x="1821.45" y="133.76" width="6.32" height="6.32" fill="#c6cdf6"/>
<rect x="1827.46" y="133.76" width="6.32" height="6.32" fill="#5060ef"/>
<rect x="1833.48" y="133.76" width="6.32" height="6.32" fill="#5060ef"/>
<rect x="1839.5" y="133.76" width="6.32" height="6.32" fill="#5060ef"/>
<rect x="1845.51" y="133.76" width="6.32" height="6.32" fill="#1f2cf0"/>
<rect x="1851.53" y="133.76" width="6.32" height="6.32" fill="#c6cdf6"/>
<rect x="1857.54" y="133.76" width="6.32" height="6.32" fill="#5060ef"/>
<rect x="1863.56" y="133.76" width="6.32" height="6.32" fill="#1f2cf0"/>
<rect x="1869.58" y="133.76" width="6.32" height="6.32" fill="#1f2cf0"/>
<rect x="1875.59" y="133.76" width="6.32" height="6.32" fill="#3d0b5e"/>
<rect x="1881.61" y="133.76" width="6.32" height="6.32" fill="#5060ef"/>
<rect x="1887.62" y="133.76" width="6.32" height="6.32" fill="#5060ef"/>
<rect x="1893.64" y="133.76" width="6.32" height="6.32" fill="#1f2cf0"/>
<rect x="1899.66" y="133.76" width="6.32" height="6.32" fill="#8894f3"/>
<rect x="1905.67" y="133.76" width="6.32" height="6.32" fill="#5060ef"/>
<rect x="1653" y="139.78" width="6.32" height="6.32" fill="#1f2cf0"/>
<rect x="1659.02" y="139.78" width="6.32" height="6.32" fill="#3d0b5e"/>
<rect x="1665.03" y="139.78" width="6.32" height="6.32" fill="#1612c4"/>
<rect x="1671.05" y="139.78" width="6.32" height="6.32" fill="#1612c4"/>
<rect x="1677.06" y="139.78" width="6.32" height="6.32" fill="#1f2cf0"/>
<rect x="1683.08" y="139.78" width="6.32" height="6.32" fill="#1f2cf0"/>
<rect x="1689.1" y="139.78" width="6.32" height="6.32" fill="#8894f3"/>
<rect x="1695.11" y="139.78" width="6.32" height="6.32" fill="#1612c4"/>
<rect x="1701.13" y="139.78" width="6.32" height="6.32" fill="#8894f3"/>
<rect x="1707.14" y="139.78" width="6.32" height="6.32" fill="#5060ef"/>
<rect x="1713.16" y="139.78" width="6.32" height="6.32" fill="#8894f3"/>
<rect x="1719.18" y="139.78" width="6.32" height="6.32" fill="#1f2cf0"/>
<rect x="1725.19" y="139.78" width="6.32" height="6.32" fill="#3d0b5e"/>
<rect x="1731.21" y="139.78" width="6.32" height="6.32" fill="#c6cdf6"/>
<rect x="1737.22" y="139.78" width="6.32" height="6.32" fill="#2fe22f"/>
<rect x="1743.24" y="139.78" width="6.32" height="6.32" fill="#c6cdf6"/>
<rect x="1749.26" y="139.78" width="6.32" height="6.32" fill="#5060ef"/>
<rect x="1755.27" y="139.78" width="6.32" height="6.32" fill="#5060ef"/>
<rect x="1761.29" y="139.78" width="6.32" height="6.32" fill="#1612c4"/>
<rect x="1767.3" y="139.78" width="6.32" height="6.32" fill="#1612c4"/>
<rect x="1773.32" y="139.78" width="6.32" height="6.32" fill="#8894f3"/>
<rect x="1779.34" y="139.78" width="6.32" height="6.32" fill="#1612c4"/>
<rect x="1785.35" y="139.78" width="6.32" height="6.32" fill="#5060ef"/>
<rect x="1791.37" y="139.78" width="6.32" height="6.32" fill="#1612c4"/>
<rect x="1797.38" y="139.78" width="6.32" height="6.32" fill="#8894f3"/>
<rect x="1803.4" y="139.78" width="6.32" height="6.32" fill="#1612c4"/>
<rect x="1809.42" y="139.78" width="6.32" height="6.32" fill="#1f2cf0"/>
<rect x="1815.43" y="139.78" width="6.32" height="6.32" fill="#3d0b5e"/>
<rect x="1821.45" y="139.78" width="6.32" height="6.32" fill="#1f2cf0"/>
<rect x="1827.46" y="139.78" width="6.32" height="6.32" fill="#8894f3"/>
<rect x="1833.48" y="139.78" width="6.32" height="6.32" fill="#3d0b5e"/>
<rect x="1839.5" y="139.78" width="6.32" height="6.32" fill="#1612c4"/>
<rect x="1845.51" y="139.78" width="6.32" height="6.32" fill="#5060ef"/>
<rect x="1851.53" y="139.78" width="6.32" height="6.32" fill="#5060ef"/>
<rect x="1857.54" y="139.78" width="6.32" height="6.32" fill="#1f2cf0"/>
<rect x="1863.56" y="139.78" width="6.32" height="6.32" fill="#5060ef"/>
<rect x="1869.58" y="139.78" width="6.32" height="6.32" fill="#1f2cf0"/>
<rect x="1875.59" y="139.78" width="6.32" height="6.32" fill="#8894f3"/>
<rect x="1881.61" y="139.78" width="6.32" height="6.32" fill="#1f2cf0"/>
<rect x="1887.62" y="139.78" width="6.32" height="6.32" fill="#5060ef"/>
<rect x="1893.64" y="139.78" width="6.32" height="6.32" fill="#5060ef"/>
<rect x="1899.66" y="139.78" width="6.32" height="6.32" fill="#5060ef"/>
<rect x="1905.67" y="139.78" width="6.32" height="6.32" fill="#1f2cf0"/>
<rect x="1653" y="145.8" width="6.32" height="6.32" fill="#5060ef"/>
<rect x="1659.02" y="145.8" width="6.32" height="6.32" fill="#5060ef"/>
<rect x="1665.03" y="145.8" width="6.32" height="6.32" fill="#1f2cf0"/>
<rect x="1671.05" y="145.8" width="6.32" height="6.32" fill="#3d0b5e"/>
<rect x="1677.06" y="145.8" width="6.32" height="6.32" fill="#c6cdf6"/>
<rect x="1683.08" y="145.8" width="6.32" height="6.32" fill="#5060ef"/>
<rect x="1689.1" y="145.8" width="6.32" height="6.32" fill="#1612c4"/>
<rect x="1695.11" y="145.8" width="6.32" height="6.32" fill="#5060ef"/>
<rect x="1701.13" y="145.8" width="6.32" height="6.32" fill="#1612c4"/>
<rect x="1707.14" y="145.8" width="6.32" height="6.32" fill="#1f2cf0"/>
<rect x="1713.16" y="145.8" width="6.32" height="6.32" fill="#8894f3"/>
<rect x="1719.18" y="145.8" width="6.32" height="6.32" fill="#1f2cf0"/>
<rect x="1725.19" y="145.8" width="6.32" height="6.32" fill="#1612c4"/>
<rect x="1731.21" y="145.8" width="6.32" height="6.32" fill="#1f2cf0"/>
<rect x="1737.22" y="145.8" width="6.32" height="6.32" fill="#c6cdf6"/>
<rect x="1743.24" y="145.8" width="6.32" height="6.32" fill="#c6cdf6"/>
<rect x="1749.26" y="145.8" width="6.32" height="6.32" fill="#2fe22f"/>
<rect x="1755.27" y="145.8" width="6.32" height="6.32" fill="#1f2cf0"/>
<rect x="1761.29" y="145.8" width="6.32" height="6.32" fill="#3d0b5e"/>
<rect x="1767.3" y="145.8" width="6.32" height="6.32" fill="#1f2cf0"/>
<rect x="1773.32" y="145.8" width="6.32" height="6.32" fill="#1612c4"/>
<rect x="1779.34" y="145.8" width="6.32" height="6.32" fill="#5060ef"/>
<rect x="1785.35" y="145.8" width="6.32" height="6.32" fill="#8894f3"/>
<rect x="1791.37" y="145.8" width="6.32" height="6.32" fill="#1612c4"/>
<rect x="1797.38" y="145.8" width="6.32" height="6.32" fill="#1f2cf0"/>
<rect x="1803.4" y="145.8" width="6.32" height="6.32" fill="#1f2cf0"/>
<rect x="1809.42" y="145.8" width="6.32" height="6.32" fill="#3d0b5e"/>
<rect x="1815.43" y="145.8" width="6.32" height="6.32" fill="#1612c4"/>
<rect x="1821.45" y="145.8" width="6.32" height="6.32" fill="#8894f3"/>
<rect x="1827.46" y="145.8" width="6.32" height="6.32" fill="#1f2cf0"/>
<rect x="1833.48" y="145.8" width="6.32" height="6.32" fill="#5060ef"/>
<rect x="1839.5" y="145.8" width="6.32" height="6.32" fill="#3d0b5e"/>
<rect x="1845.51" y="145.8" width="6.32" height="6.32" fill="#5060ef"/>
<rect x="1851.53" y="145.8" width="6.32" height="6.32" fill="#8894f3"/>
<rect x="1857.54" y="145.8" width="6.32" height="6.32" fill="#8894f3"/>
<rect x="1863.56" y="145.8" width="6.32" height="6.32" fill="#3d0b5e"/>
<rect x="1869.58" y="145.8" width="6.32" height="6.32" fill="#1f2cf0"/>
<rect x="1875.59" y="145.8" width="6.32" height="6.32" fill="#1f2cf0"/>
<rect x="1881.61" y="145.8" width="6.32" height="6.32" fill="#5060ef"/>
<rect x="1887.62" y="145.8" width="6.32" height="6.32" fill="#3d0b5e"/>
<rect x="1893.64" y="145.8" width="6.32" height="6.32" fill="#1612c4"/>
<rect x="1899.66" y="145.8" width="6.32" height="6.32" fill="#8894f3"/>
<rect x="1905.67" y="145.8" width="6.32" height="6.32" fill="#1f2cf0"/>
<rect x="1653" y="151.82" width="6.32" height="6.32" fill="#1f2cf0"/>
<rect x="1659.02" y="151.82" width="6.32" height="6.32" fill="#c6cdf6"/>
<rect x="1665.03" y="151.82" width="6.32" height="6.32" fill="#1f2cf0"/>
<rect x="1671.05" y="151.82" width="6.32" height="6.32" fill="#3d0b5e"/>
<rect x="1677.06" y="151.82" width="6.32" height="6.32" fill="#1f2cf0"/>
<rect x="1683.08" y="151.82" width="6.32" height="6.32" fill="#1612c4"/>
<rect x="1689.1" y="151.82" width="6.32" height="6.32" fill="#3d0b5e"/>
<rect x="1695.11" y="151.82" width="6.32" height="6.32" fill="#1f2cf0"/>
<rect x="1701.13" y="151.82" width="6.32" height="6.32" fill="#c6cdf6"/>
<rect x="1707.14" y="151.82" width="6.32" height="6.32" fill="#1f2cf0"/>
<rect x="1713.16" y="151.82" width="6.32" height="6.32" fill="#5060ef"/>
<rect x="1719.18" y="151.82" width="6.32" height="6.32" fill="#1f2cf0"/>
<rect x="1725.19" y="151.82" width="6.32" height="6.32" fill="#1f2cf0"/>
<rect x="1731.21" y="151.82" width="6.32" height="6.32" fill="#5060ef"/>
<rect x="1737.22" y="151.82" width="6.32" height="6.32" fill="#1f2cf0"/>
<rect x="1743.24" y="151.82" width="6.32" height="6.32" fill="#ff8a00"/>
<rect x="1749.26" y="151.82" width="6.32" height="6.32" fill="#ff0000"/>
<rect x="1755.27" y="151.82" width="6.32" height="6.32" fill="#2fe22f"/>
<rect x="1761.29" y="151.82" width="6.32" height="6.32" fill="#5060ef"/>
<rect x="1767.3" y="151.82" width="6.32" height="6.32" fill="#1f2cf0"/>
<rect x="1773.32" y="151.82" width="6.32" height="6.32" fill="#1612c4"/>
<rect x="1779.34" y="151.82" width="6.32" height="6.32" fill="#5060ef"/>
<rect x="1785.35" y="151.82" width="6.32" height="6.32" fill="#8894f3"/>
<rect x="1791.37" y="151.82" width="6.32" height="6.32" fill="#1612c4"/>
<rect x="1797.38" y="151.82" width="6.32" height="6.32" fill="#1f2cf0"/>
<rect x="1803.4" y="151.82" width="6.32" height="6.32" fill="#5060ef"/>
<rect x="1809.42" y="151.82" width="6.32" height="6.32" fill="#1f2cf0"/>
<rect x="1815.43" y="151.82" width="6.32" height="6.32" fill="#1612c4"/>
<rect x="1821.45" y="151.82" width="6.32" height="6.32" fill="#1f2cf0"/>
<rect x="1827.46" y="151.82" width="6.32" height="6.32" fill="#1f2cf0"/>
<rect x="1833.48" y="151.82" width="6.32" height="6.32" fill="#5060ef"/>
<rect x="1839.5" y="151.82" width="6.32" height="6.32" fill="#1f2cf0"/>
<rect x="1845.51" y="151.82" width="6.32" height="6.32" fill="#1612c4"/>
<rect x="1851.53" y="151.82" width="6.32" height="6.32" fill="#8894f3"/>
<rect x="1857.54" y="151.82" width="6.32" height="6.32" fill="#8894f3"/>
<rect x="1863.56" y="151.82" width="6.32" height="6.32" fill="#1612c4"/>
<rect x="1869.58" y="151.82" width="6.32" height="6.32" fill="#1612c4"/>
<rect x="1875.59" y="151.82" width="6.32" height="6.32" fill="#1612c4"/>
<rect x="1881.61" y="151.82" width="6.32" height="6.32" fill="#8894f3"/>
<rect x="1887.62" y="151.82" width="6.32" height="6.32" fill="#8894f3"/>
<rect x="1893.64" y="151.82" width="6.32" height="6.32" fill="#3d0b5e"/>
<rect x="1899.66" y="151.82" width="6.32" height="6.32" fill="#1f2cf0"/>
<rect x="1905.67" y="151.82" width="6.32" height="6.32" fill="#1612c4"/>
<rect x="1653" y="157.84" width="6.32" height="6.32" fill="#1f2cf0"/>
<rect x="1659.02" y="157.84" width="6.32" height="6.32" fill="#8894f3"/>
<rect x="1665.03" y="157.84" width="6.32" height="6.32" fill="#3d0b5e"/>
<rect x="1671.05" y="157.84" width="6.32" height="6.32" fill="#1612c4"/>
<rect x="1677.06" y="157.84" width="6.32" height="6.32" fill="#1f2cf0"/>
<rect x="1683.08" y="157.84" width="6.32" height="6.32" fill="#1f2cf0"/>
<rect x="1689.1" y="157.84" width="6.32" height="6.32" fill="#5060ef"/>
<rect x="1695.11" y="157.84" width="6.32" height="6.32" fill="#1f2cf0"/>
<rect x="1701.13" y="157.84" width="6.32" height="6.32" fill="#1612c4"/>
<rect x="1707.14" y="157.84" width="6.32" height="6.32" fill="#1f2cf0"/>
<rect x="1713.16" y="157.84" width="6.32" height="6.32" fill="#c6cdf6"/>
<rect x="1719.18" y="157.84" width="6.32" height="6.32" fill="#5060ef"/>
<rect x="1725.19" y="157.84" width="6.32" height="6.32" fill="#1612c4"/>
<rect x="1731.21" y="157.84" width="6.32" height="6.32" fill="#5060ef"/>
<rect x="1737.22" y="157.84" width="6.32" height="6.32" fill="#5060ef"/>
<rect x="1743.24" y="157.84" width="6.32" height="6.32" fill="#8894f3"/>
<rect x="1749.26" y="157.84" width="6.32" height="6.32" fill="#ff0000"/>
<rect x="1755.27" y="157.84" width="6.32" height="6.32" fill="#ff0000"/>
<rect x="1761.29" y="157.84" width="6.32" height="6.32" fill="#8894f3"/>
<rect x="1767.3" y="157.84" width="6.32" height="6.32" fill="#5060ef"/>
<rect x="1773.32" y="157.84" width="6.32" height="6.32" fill="#5060ef"/>
<rect x="1779.34" y="157.84" width="6.32" height="6.32" fill="#1f2cf0"/>
<rect x="1785.35" y="157.84" width="6.32" height="6.32" fill="#1612c4"/>
<rect x="1791.37" y="157.84" width="6.32" height="6.32" fill="#1612c4"/>
<rect x="1797.38" y="157.84" width="6.32" height="6.32" fill="#1612c4"/>
<rect x="1803.4" y="157.84" width="6.32" height="6.32" fill="#3d0b5e"/>
<rect x="1809.42" y="157.84" width="6.32" height="6.32" fill="#1612c4"/>
<rect x="1815.43" y="157.84" width="6.32" height="6.32" fill="#1612c4"/>
<rect x="1821.45" y="157.84" width="6.32" height="6.32" fill="#1f2cf0"/>
<rect x="1827.46" y="157.84" width="6.32" height="6.32" fill="#1f2cf0"/>
<rect x="1833.48" y="157.84" width="6.32" height="6.32" fill="#1f2cf0"/>
<rect x="1839.5" y="157.84" width="6.32" height="6.32" fill="#1612c4"/>
<rect x="1845.51" y="157.84" width="6.32" height="6.32" fill="#3d0b5e"/>
<rect x="1851.53" y="157.84" width="6.32" height="6.32" fill="#1f2cf0"/>
<rect x="1857.54" y="157.84" width="6.32" height="6.32" fill="#5060ef"/>
<rect x="1863.56" y="157.84" width="6.32" height="6.32" fill="#1612c4"/>
<rect x="1869.58" y="157.84" width="6.32" height="6.32" fill="#1f2cf0"/>
<rect x="1875.59" y="157.84" width="6.32" height="6.32" fill="#5060ef"/>
<rect x="1881.61" y="157.84" width="6.32" height="6.32" fill="#1f2cf0"/>
<rect x="1887.62" y="157.84" width="6.32" height="6.32" fill="#8894f3"/>
<rect x="1893.64" y="157.84" width="6.32" height="6.32" fill="#8894f3"/>
<rect x="1899.66" y="157.84" width="6.32" height="6.32" fill="#1f2cf0"/>
<rect x="1905.67" y="157.84" width="6.32" height="6.32" fill="#5060ef"/>
<rect x="1653" y="163.86" width="6.32" height="6.32" fill="#1612c4"/>
<rect x="1659.02" y="163.86" width="6.32" height="6.32" fill="#1612c4"/>
<rect x="1665.03" y="163.86" width="6.32" height="6.32" fill="#1f2cf0"/>
<rect x="1671.05" y="163.86" width="6.32" height="6.32" fill="#5060ef"/>
<rect x="1677.06" y="163.86" width="6.32" height="6.32" fill="#8894f3"/>
<rect x="1683.08" y="163.86" width="6.32" height="6.32" fill="#1612c4"/>
<rect x="1689.1" y="163.86" width="6.32" height="6.32" fill="#5060ef"/>
<rect x="1695.11" y="163.86" width="6.32" height="6.32" fill="#1f2cf0"/>
<rect x="1701.13" y="163.86" width="6.32" height="6.32" fill="#1612c4"/>
<rect x="1707.14" y="163.86" width="6.32" height="6.32" fill="#c6cdf6"/>
<rect x="1713.16" y="163.86" width="6.32" height="6.32" fill="#5060ef"/>
<rect x="1719.18" y="163.86" width="6.32" height="6.32" fill="#1612c4"/>
<rect x="1725.19" y="163.86" width="6.32" height="6.32" fill="#8894f3"/>
<rect x="1731.21" y="163.86" width="6.32" height="6.32" fill="#1612c4"/>
<rect x="1737.22" y="163.86" width="6.32" height="6.32" fill="#8894f3"/>
<rect x="1743.24" y="163.86" width="6.32" height="6.32" fill="#c6cdf6"/>
<rect x="1749.26" y="163.86" width="6.32" height="6.32" fill="#2fe22f"/>
<rect x="1755.27" y="163.86" width="6.32" height="6.32" fill="#ff0000"/>
<rect x="1761.29" y="163.86" width="6.32" height="6.32" fill="#ff0000"/>
<rect x="1767.3" y="163.86" width="6.32" height="6.32" fill="#c6cdf6"/>
<rect x="1773.32" y="163.86" width="6.32" height="6.32" fill="#5060ef"/>
<rect x="1779.34" y="163.86" width="6.32" height="6.32" fill="#1f2cf0"/>
<rect x="1785.35" y="163.86" width="6.32" height="6.32" fill="#1f2cf0"/>
<rect x="1791.37" y="163.86" width="6.32" height="6.32" fill="#1f2cf0"/>
<rect x="1797.38" y="163.86" width="6.32" height="6.32" fill="#5060ef"/>
<rect x="1803.4" y="163.86" width="6.32" height="6.32" fill="#5060ef"/>
<rect x="1809.42" y="163.86" width="6.32" height="6.32" fill="#c6cdf6"/>
<rect x="1815.43" y="163.86" width="6.32" height="6.32" fill="#1612c4"/>
<rect x="1821.45" y="163.86" width="6.32" height="6.32" fill="#8894f3"/>
<rect x="1827.46" y="163.86" width="6.32" height="6.32" fill="#1f2cf0"/>
<rect x="1833.48" y="163.86" width="6.32" height="6.32" fill="#5060ef"/>
<rect x="1839.5" y="163.86" width="6.32" height="6.32" fill="#8894f3"/>
<rect x="1845.51" y="163.86" width="6.32" height="6.32" fill="#c6cdf6"/>
<rect x="1851.53" y="163.86" width="6.32" height="6.32" fill="#1612c4"/>
<rect x="1857.54" y="163.86" width="6.32" height="6.32" fill="#1f2cf0"/>
<rect x="1863.56" y="163.86" width="6.32" height="6.32" fill="#c6cdf6"/>
<rect x="1869.58" y="163.86" width="6.32" height="6.32" fill="#c6cdf6"/>
<rect x="1875.59" y="163.86" width="6.32" height="6.32" fill="#1f2cf0"/>
<rect x="1881.61" y="163.86" width="6.32" height="6.32" fill="#c6cdf6"/>
<rect x="1887.62" y="163.86" width="6.32" height="6.32" fill="#1f2cf0"/>
<rect x="1893.64" y="163.86" width="6.32" height="6.32" fill="#1f2cf0"/>
<rect x="1899.66" y="163.86" width="6.32" height="6.32" fill="#5060ef"/>
<rect x="1905.67" y="163.86" width="6.32" height="6.32" fill="#1f2cf0"/>
<rect x="1653" y="169.88" width="6.32" height="6.32" fill="#1f2cf0"/>
<rect x="1659.02" y="169.88" width="6.32" height="6.32" fill="#8894f3"/>
<rect x="1665.03" y="169.88" width="6.32" height="6.32" fill="#5060ef"/>
<rect x="1671.05" y="169.88" width="6.32" height="6.32" fill="#c6cdf6"/>
<rect x="1677.06" y="169.88" width="6.32" height="6.32" fill="#1612c4"/>
<rect x="1683.08" y="169.88" width="6.32" height="6.32" fill="#1612c4"/>
<rect x="1689.1" y="169.88" width="6.32" height="6.32" fill="#1612c4"/>
<rect x="1695.11" y="169.88" width="6.32" height="6.32" fill="#1612c4"/>
<rect x="1701.13" y="169.88" width="6.32" height="6.32" fill="#1612c4"/>
<rect x="1707.14" y="169.88" width="6.32" height="6.32" fill="#a6ecbc"/>
<rect x="1713.16" y="169.88" width="6.32" height="6.32" fill="#8894f3"/>
<rect x="1719.18" y="169.88" width="6.32" height="6.32" fill="#1f2cf0"/>
<rect x="1725.19" y="169.88" width="6.32" height="6.32" fill="#a6ecbc"/>
<rect x="1731.21" y="169.88" width="6.32" height="6.32" fill="#3d0b5e"/>
<rect x="1737.22" y="169.88" width="6.32" height="6.32" fill="#8894f3"/>
<rect x="1743.24" y="169.88" width="6.32" height="6.32" fill="#5060ef"/>
<rect x="1749.26" y="169.88" width="6.32" height="6.32" fill="#5060ef"/>
<rect x="1755.27" y="169.88" width="6.32" height="6.32" fill="#ff8a00"/>
<rect x="1761.29" y="169.88" width="6.32" height="6.32" fill="#ff0000"/>
<rect x="1767.3" y="169.88" width="6.32" height="6.32" fill="#2fe22f"/>
<rect x="1773.32" y="169.88" width="6.32" height="6.32" fill="#5060ef"/>
<rect x="1779.34" y="169.88" width="6.32" height="6.32" fill="#1f2cf0"/>
<rect x="1785.35" y="169.88" width="6.32" height="6.32" fill="#5060ef"/>
<rect x="1791.37" y="169.88" width="6.32" height="6.32" fill="#3d0b5e"/>
<rect x="1797.38" y="169.88" width="6.32" height="6.32" fill="#1f2cf0"/>
<rect x="1803.4" y="169.88" width="6.32" height="6.32" fill="#1f2cf0"/>
<rect x="1809.42" y="169.88" width="6.32" height="6.32" fill="#1612c4"/>
<rect x="1815.43" y="169.88" width="6.32" height="6.32" fill="#1f2cf0"/>
<rect x="1821.45" y="169.88" width="6.32" height="6.32" fill="#5060ef"/>
<rect x="1827.46" y="169.88" width="6.32" height="6.32" fill="#1f2cf0"/>
<rect x="1833.48" y="169.88" width="6.32" height="6.32" fill="#1612c4"/>
<rect x="1839.5" y="169.88" width="6.32" height="6.32" fill="#5060ef"/>
<rect x="1845.51" y="169.88" width="6.32" height="6.32" fill="#3d0b5e"/>
<rect x="1851.53" y="169.88" width="6.32" height="6.32" fill="#c6cdf6"/>
<rect x="1857.54" y="169.88" width="6.32" height="6.32" fill="#1612c4"/>
<rect x="1863.56" y="169.88" width="6.32" height="6.32" fill="#1612c4"/>
<rect x="1869.58" y="169.88" width="6.32" height="6.32" fill="#1612c4"/>
<rect x="1875.59" y="169.88" width="6.32" height="6.32" fill="#c6cdf6"/>
<rect x="1881.61" y="169.88" width="6.32" height="6.32" fill="#1612c4"/>
<rect x="1887.62" y="169.88" width="6.32" height="6.32" fill="#5060ef"/>
<rect x="1893.64" y="169.88" width="6.32" height="6.32" fill="#c6cdf6"/>
<rect x="1899.66" y="169.88" width="6.32" height="6.32" fill="#c6cdf6"/>
<rect x="1905.67" y="169.88" width="6.32" height="6.32" fill="#3d0b5e"/>
<rect x="1653" y="175.9" width="6.32" height="6.32" fill="#2fe22f"/>
<rect x="1659.02" y="175.9" width="6.32" height="6.32" fill="#a4f224"/>
<rect x="1665.03" y="175.9" width="6.32" height="6.32" fill="#c6cdf6"/>
<rect x="1671.05" y="175.9" width="6.32" height="6.32" fill="#a4f224"/>
<rect x="1677.06" y="175.9" width="6.32" height="6.32" fill="#f4f400"/>
<rect x="1683.08" y="175.9" width="6.32" height="6.32" fill="#2fe22f"/>
<rect x="1689.1" y="175.9" width="6.32" height="6.32" fill="#2fe22f"/>
<rect x="1695.11" y="175.9" width="6.32" height="6.32" fill="#2fe22f"/>
<rect x="1701.13" y="175.9" width="6.32" height="6.32" fill="#a6ecbc"/>
<rect x="1707.14" y="175.9" width="6.32" height="6.32" fill="#8894f3"/>
<rect x="1713.16" y="175.9" width="6.32" height="6.32" fill="#c6cdf6"/>
<rect x="1719.18" y="175.9" width="6.32" height="6.32" fill="#a6ecbc"/>
<rect x="1725.19" y="175.9" width="6.32" height="6.32" fill="#a6ecbc"/>
<rect x="1731.21" y="175.9" width="6.32" height="6.32" fill="#a6ecbc"/>
<rect x="1737.22" y="175.9" width="6.32" height="6.32" fill="#5060ef"/>
<rect x="1743.24" y="175.9" width="6.32" height="6.32" fill="#a6ecbc"/>
<rect x="1749.26" y="175.9" width="6.32" height="6.32" fill="#8894f3"/>
<rect x="1755.27" y="175.9" width="6.32" height="6.32" fill="#5060ef"/>
<rect x="1761.29" y="175.9" width="6.32" height="6.32" fill="#f4f400"/>
<rect x="1767.3" y="175.9" width="6.32" height="6.32" fill="#2fe22f"/>
<rect x="1773.32" y="175.9" width="6.32" height="6.32" fill="#1f2cf0"/>
<rect x="1779.34" y="175.9" width="6.32" height="6.32" fill="#5060ef"/>
<rect x="1785.35" y="175.9" width="6.32" height="6.32" fill="#1612c4"/>
<rect x="1791.37" y="175.9" width="6.32" height="6.32" fill="#1f2cf0"/>
<rect x="1797.38" y="175.9" width="6.32" height="6.32" fill="#3d0b5e"/>
<rect x="1803.4" y="175.9" width="6.32" height="6.32" fill="#1612c4"/>
<rect x="1809.42" y="175.9" width="6.32" height="6.32" fill="#3d0b5e"/>
<rect x="1815.43" y="175.9" width="6.32" height="6.32" fill="#1612c4"/>
<rect x="1821.45" y="175.9" width="6.32" height="6.32" fill="#5060ef"/>
<rect x="1827.46" y="175.9" width="6.32" height="6.32" fill="#1612c4"/>
<rect x="1833.48" y="175.9" width="6.32" height="6.32" fill="#1612c4"/>
<rect x="1839.5" y="175.9" width="6.32" height="6.32" fill="#8894f3"/>
<rect x="1845.51" y="175.9" width="6.32" height="6.32" fill="#1f2cf0"/>
<rect x="1851.53" y="175.9" width="6.32" height="6.32" fill="#1f2cf0"/>
<rect x="1857.54" y="175.9" width="6.32" height="6.32" fill="#3d0b5e"/>
<rect x="1863.56" y="175.9" width="6.32" height="6.32" fill="#5060ef"/>
<rect x="1869.58" y="175.9" width="6.32" height="6.32" fill="#5060ef"/>
<rect x="1875.59" y="175.9" width="6.32" height="6.32" fill="#1f2cf0"/>
<rect x="1881.61" y="175.9" width="6.32" height="6.32" fill="#5060ef"/>
<rect x="1887.62" y="175.9" width="6.32" height="6.32" fill="#1612c4"/>
<rect x="1893.64" y="175.9" width="6.32" height="6.32" fill="#1612c4"/>
<rect x="1899.66" y="175.9" width="6.32" height="6.32" fill="#1f2cf0"/>
<rect x="1905.67" y="175.9" width="6.32" height="6.32" fill="#c6cdf6"/>
<rect x="1653" y="181.92" width="6.32" height="6.32" fill="#ff0000"/>
<rect x="1659.02" y="181.92" width="6.32" height="6.32" fill="#ff0000"/>
<rect x="1665.03" y="181.92" width="6.32" height="6.32" fill="#ff0000"/>
<rect x="1671.05" y="181.92" width="6.32" height="6.32" fill="#ff0000"/>
<rect x="1677.06" y="181.92" width="6.32" height="6.32" fill="#ff0000"/>
<rect x="1683.08" y="181.92" width="6.32" height="6.32" fill="#ff0000"/>
<rect x="1689.1" y="181.92" width="6.32" height="6.32" fill="#ff0000"/>
<rect x="1695.11" y="181.92" width="6.32" height="6.32" fill="#ff0000"/>
<rect x="1701.13" y="181.92" width="6.32" height="6.32" fill="#ff0000"/>
<rect x="1707.14" y="181.92" width="6.32" height="6.32" fill="#a6ecbc"/>
<rect x="1713.16" y="181.92" width="6.32" height="6.32" fill="#2fe22f"/>
<rect x="1719.18" y="181.92" width="6.32" height="6.32" fill="#a4f224"/>
<rect x="1725.19" y="181.92" width="6.32" height="6.32" fill="#ff0000"/>
<rect x="1731.21" y="181.92" width="6.32" height="6.32" fill="#ff0000"/>
<rect x="1737.22" y="181.92" width="6.32" height="6.32" fill="#ff0000"/>
<rect x="1743.24" y="181.92" width="6.32" height="6.32" fill="#f4f400"/>
<rect x="1749.26" y="181.92" width="6.32" height="6.32" fill="#1f2cf0"/>
<rect x="1755.27" y="181.92" width="6.32" height="6.32" fill="#1f2cf0"/>
<rect x="1761.29" y="181.92" width="6.32" height="6.32" fill="#5060ef"/>
<rect x="1767.3" y="181.92" width="6.32" height="6.32" fill="#1f2cf0"/>
<rect x="1773.32" y="181.92" width="6.32" height="6.32" fill="#3d0b5e"/>
<rect x="1779.34" y="181.92" width="6.32" height="6.32" fill="#5060ef"/>
<rect x="1785.35" y="181.92" width="6.32" height="6.32" fill="#8894f3"/>
<rect x="1791.37" y="181.92" width="6.32" height="6.32" fill="#8894f3"/>
<rect x="1797.38" y="181.92" width="6.32" height="6.32" fill="#1f2cf0"/>
<rect x="1803.4" y="181.92" width="6.32" height="6.32" fill="#3d0b5e"/>
<rect x="1809.42" y="181.92" width="6.32" height="6.32" fill="#8894f3"/>
<rect x="1815.43" y="181.92" width="6.32" height="6.32" fill="#1f2cf0"/>
<rect x="1821.45" y="181.92" width="6.32" height="6.32" fill="#1612c4"/>
<rect x="1827.46" y="181.92" width="6.32" height="6.32" fill="#8894f3"/>
<rect x="1833.48" y="181.92" width="6.32" height="6.32" fill="#1f2cf0"/>
<rect x="1839.5" y="181.92" width="6.32" height="6.32" fill="#1612c4"/>
<rect x="1845.51" y="181.92" width="6.32" height="6.32" fill="#3d0b5e"/>
<rect x="1851.53" y="181.92" width="6.32" height="6.32" fill="#c6cdf6"/>
<rect x="1857.54" y="181.92" width="6.32" height="6.32" fill="#1f2cf0"/>
<rect x="1863.56" y="181.92" width="6.32" height="6.32" fill="#3d0b5e"/>
<rect x="1869.58" y="181.92" width="6.32" height="6.32" fill="#1f2cf0"/>
<rect x="1875.59" y="181.92" width="6.32" height="6.32" fill="#1f2cf0"/>
<rect x="1881.61" y="181.92" width="6.32" height="6.32" fill="#1f2cf0"/>
<rect x="1887.62" y="181.92" width="6.32" height="6.32" fill="#c6cdf6"/>
<rect x="1893.64" y="181.92" width="6.32" height="6.32" fill="#c6cdf6"/>
<rect x="1899.66" y="181.92" width="6.32" height="6.32" fill="#1612c4"/>
<rect x="1905.67" y="181.92" width="6.32" height="6.32" fill="#1612c4"/>
<defs><linearGradient id="cbar" x1="0" y1="0" x2="0" y2="1"><stop offset="0" stop-color="#ff0000"/><stop offset="0.12" stop-color="#ff7000"/><stop offset="0.2" stop-color="#f4f000"/><stop offset="0.3" stop-color="#90f020"/><stop offset="0.45" stop-color="#18e018"/><stop offset="0.57" stop-color="#60e080"/><stop offset="0.7" stop-color="#d8dcf4"/><stop offset="0.82" stop-color="#8088f0"/><stop offset="1" stop-color="#2020f0"/></linearGradient></defs>
<rect x="1923.7" y="64.2" width="23.6" height="115.3" fill="url(#cbar)"/>
<text x="1918" y="54.7" font-size="20" text-anchor="start" font-weight="normal" fill="#000" >High</text>
<text x="1920.5" y="198" font-size="20" text-anchor="start" font-weight="normal" fill="#000" >Low</text>
<text x="1782" y="47.1" font-size="20" text-anchor="middle" font-weight="normal" fill="#000" >PL intensity at 1.74 eV</text>
<text x="1625" y="31" font-size="42" text-anchor="start" font-weight="bold" fill="#000" >e</text>
<defs>
<radialGradient id="gGa" cx="0.5" cy="0.5" r="0.5" fx="0.66" fy="0.32"><stop offset="0" stop-color="#ffffe0"/><stop offset="0.18" stop-color="#f6ee1c"/><stop offset="0.65" stop-color="#d4ca00"/><stop offset="1" stop-color="#827800"/></radialGradient>
<radialGradient id="gTe" cx="0.5" cy="0.5" r="0.5" fx="0.66" fy="0.32"><stop offset="0" stop-color="#a8c4ff"/><stop offset="0.18" stop-color="#2c62cc"/><stop offset="0.65" stop-color="#17419c"/><stop offset="1" stop-color="#081c52"/></radialGradient>
<radialGradient id="gSe" cx="0.5" cy="0.5" r="0.5" fx="0.66" fy="0.32"><stop offset="0" stop-color="#e4f8ff"/><stop offset="0.18" stop-color="#70c2e8"/><stop offset="0.65" stop-color="#4196c2"/><stop offset="1" stop-color="#1d5074"/></radialGradient>
</defs>
<polygon points="1812,304 1952,304 1966,330 1970,345 1970,360 1808,360 1806,330" fill="#77701e"/>
<circle cx="1816" cy="302" r="4.3" fill="url(#gGa)"/>
<circle cx="1833.5" cy="302" r="4.3" fill="url(#gGa)"/>
<circle cx="1851" cy="302" r="4.3" fill="url(#gGa)"/>
<circle cx="1868.5" cy="302" r="4.3" fill="url(#gGa)"/>
<circle cx="1886" cy="302" r="4.3" fill="url(#gGa)"/>
<circle cx="1903.5" cy="302" r="4.3" fill="url(#gGa)"/>
<circle cx="1921" cy="302" r="4.3" fill="url(#gGa)"/>
<circle cx="1938.5" cy="302" r="4.3" fill="url(#gGa)"/>
<circle cx="1956" cy="302" r="4.3" fill="url(#gGa)"/>
<circle cx="1806" cy="309" r="4.7" fill="url(#gGa)"/>
<circle cx="1824.5" cy="309" r="4.7" fill="url(#gGa)"/>
<circle cx="1843" cy="309" r="4.7" fill="url(#gGa)"/>
<circle cx="1861.5" cy="309" r="4.7" fill="url(#gGa)"/>
<circle cx="1880" cy="309" r="4.7" fill="url(#gGa)"/>
<circle cx="1898.5" cy="309" r="4.7" fill="url(#gGa)"/>
<circle cx="1917" cy="309" r="4.7" fill="url(#gGa)"/>
<circle cx="1935.5" cy="309" r="4.7" fill="url(#gGa)"/>
<circle cx="1954" cy="309" r="4.7" fill="url(#gGa)"/>
<circle cx="1806" cy="318" r="5.1" fill="url(#gGa)"/>
<circle cx="1825.5" cy="318" r="5.1" fill="url(#gGa)"/>
<circle cx="1845" cy="318" r="5.1" fill="url(#gGa)"/>
<circle cx="1864.5" cy="318" r="5.1" fill="url(#gGa)"/>
<circle cx="1884" cy="318" r="5.1" fill="url(#gGa)"/>
<circle cx="1903.5" cy="318" r="5.1" fill="url(#gGa)"/>
<circle cx="1923" cy="318" r="5.1" fill="url(#gGa)"/>
<circle cx="1942.5" cy="318" r="5.1" fill="url(#gGa)"/>
<circle cx="1962" cy="318" r="5.1" fill="url(#gGa)"/>
<circle cx="1805" cy="322" r="6" fill="url(#gGa)"/>
<circle cx="1812" cy="326.5" r="5.5" fill="url(#gGa)"/>
<circle cx="1833.5" cy="326.5" r="5.5" fill="url(#gGa)"/>
<circle cx="1855" cy="326.5" r="5.5" fill="url(#gGa)"/>
<circle cx="1876.5" cy="326.5" r="5.5" fill="url(#gGa)"/>
<circle cx="1898" cy="326.5" r="5.5" fill="url(#gGa)"/>
<circle cx="1919.5" cy="326.5" r="5.5" fill="url(#gGa)"/>
<circle cx="1941" cy="326.5" r="5.5" fill="url(#gGa)"/>
<circle cx="1962.5" cy="326.5" r="5.5" fill="url(#gGa)"/>
<circle cx="1814" cy="337.5" r="5.9" fill="url(#gGa)"/>
<circle cx="1836.5" cy="337.5" r="5.9" fill="url(#gGa)"/>
<circle cx="1859" cy="337.5" r="5.9" fill="url(#gGa)"/>
<circle cx="1881.5" cy="337.5" r="5.9" fill="url(#gGa)"/>
<circle cx="1904" cy="337.5" r="5.9" fill="url(#gGa)"/>
<circle cx="1926.5" cy="337.5" r="5.9" fill="url(#gGa)"/>
<circle cx="1949" cy="337.5" r="5.9" fill="url(#gGa)"/>
<circle cx="1971.5" cy="337.5" r="5.9" fill="url(#gGa)"/>
<circle cx="1800" cy="338" r="6.6" fill="url(#gGa)"/>
<circle cx="1822" cy="352.5" r="6" fill="url(#gGa)"/>
<circle cx="1845.3" cy="352.5" r="6" fill="url(#gGa)"/>
<circle cx="1868.6" cy="352.5" r="6" fill="url(#gGa)"/>
<circle cx="1891.9" cy="352.5" r="6" fill="url(#gGa)"/>
<circle cx="1915.2" cy="352.5" r="6" fill="url(#gGa)"/>
<circle cx="1938.5" cy="352.5" r="6" fill="url(#gGa)"/>
<circle cx="1961.8" cy="352.5" r="6" fill="url(#gGa)"/>
<circle cx="1798" cy="353" r="6.8" fill="url(#gGa)"/>
<circle cx="1810.7" cy="298.7" r="5.6" fill="url(#gSe)"/>
<circle cx="1821.3" cy="298.7" r="5.6" fill="url(#gTe)"/>
<circle cx="1838.2" cy="298.7" r="5.6" fill="url(#gSe)"/>
<circle cx="1856.2" cy="298.7" r="5.6" fill="url(#gSe)"/>
<circle cx="1872" cy="298.7" r="5.6" fill="url(#gTe)"/>
<circle cx="1891" cy="298.7" r="5.6" fill="url(#gSe)"/>
<circle cx="1909" cy="298.7" r="5.6" fill="url(#gTe)"/>
<circle cx="1926" cy="298.7" r="5.6" fill="url(#gSe)"/>
<circle cx="1943" cy="298.7" r="5.6" fill="url(#gTe)"/>
<circle cx="1958" cy="298.7" r="5.6" fill="url(#gTe)"/>
<circle cx="1827.7" cy="304.5" r="6.1" fill="url(#gSe)"/>
<circle cx="1845.6" cy="304.5" r="6.1" fill="url(#gTe)"/>
<circle cx="1863.6" cy="304.5" r="6.1" fill="url(#gSe)"/>
<circle cx="1882.7" cy="304.5" r="6.1" fill="url(#gTe)"/>
<circle cx="1900.7" cy="304.5" r="6.1" fill="url(#gSe)"/>
<circle cx="1918.6" cy="304.5" r="6.1" fill="url(#gSe)"/>
<circle cx="1937.7" cy="304.5" r="6.1" fill="url(#gTe)"/>
<circle cx="1955.6" cy="304.5" r="6.1" fill="url(#gTe)"/>
<circle cx="1798" cy="314.6" r="6.7" fill="url(#gTe)"/>
<circle cx="1814" cy="314.6" r="6.7" fill="url(#gSe)"/>
<circle cx="1834" cy="314.6" r="6.7" fill="url(#gTe)"/>
<circle cx="1853" cy="314.6" r="6.7" fill="url(#gTe)"/>
<circle cx="1872" cy="314.6" r="6.7" fill="url(#gSe)"/>
<circle cx="1892" cy="314.6" r="6.7" fill="url(#gSe)"/>
<circle cx="1911" cy="314.6" r="6.7" fill="url(#gTe)"/>
<circle cx="1930" cy="314.6" r="6.7" fill="url(#gSe)"/>
<circle cx="1949" cy="314.6" r="6.7" fill="url(#gTe)"/>
<circle cx="1818" cy="322" r="7.1" fill="url(#gTe)"/>
<circle cx="1839" cy="322" r="7.1" fill="url(#gTe)"/>
<circle cx="1860.4" cy="322" r="7.1" fill="url(#gTe)"/>
<circle cx="1882.7" cy="322" r="7.1" fill="url(#gTe)"/>
<circle cx="1903" cy="322" r="7.1" fill="url(#gSe)"/>
<circle cx="1924" cy="322" r="7.1" fill="url(#gTe)"/>
<circle cx="1944" cy="322" r="7.1" fill="url(#gSe)"/>
<circle cx="1964" cy="322" r="7.1" fill="url(#gSe)"/>
<circle cx="1803.3" cy="330.5" r="7.6" fill="url(#gTe)"/>
<circle cx="1825.5" cy="330.5" r="7.6" fill="url(#gTe)"/>
<circle cx="1848.8" cy="330.5" r="7.6" fill="url(#gSe)"/>
<circle cx="1871" cy="330.5" r="7.6" fill="url(#gSe)"/>
<circle cx="1893" cy="330.5" r="7.6" fill="url(#gTe)"/>
<circle cx="1915.5" cy="330.5" r="7.6" fill="url(#gTe)"/>
<circle cx="1937.7" cy="330.5" r="7.6" fill="url(#gTe)"/>
<circle cx="1959" cy="330.5" r="7.6" fill="url(#gTe)"/>
<circle cx="1810.7" cy="345.3" r="8" fill="url(#gSe)"/>
<circle cx="1834" cy="345.3" r="8" fill="url(#gTe)"/>
<circle cx="1857.3" cy="345.3" r="8" fill="url(#gSe)"/>
<circle cx="1882.7" cy="345.3" r="8" fill="url(#gTe)"/>
<circle cx="1906" cy="345.3" r="8" fill="url(#gSe)"/>
<circle cx="1929" cy="345.3" r="8" fill="url(#gSe)"/>
<circle cx="1952.5" cy="345.3" r="8" fill="url(#gTe)"/>
<circle cx="1975.7" cy="345.3" r="8" fill="url(#gTe)"/>
<circle cx="1809.7" cy="360" r="7" fill="url(#gGa)"/>
<circle cx="1833" cy="360" r="7" fill="url(#gGa)"/>
<circle cx="1856.3" cy="360" r="7" fill="url(#gGa)"/>
<circle cx="1879.6" cy="360" r="7" fill="url(#gGa)"/>
<circle cx="1902.9" cy="360" r="7" fill="url(#gGa)"/>
<circle cx="1926.2" cy="360" r="7" fill="url(#gGa)"/>
<circle cx="1949.5" cy="360" r="7" fill="url(#gGa)"/>
<circle cx="1972.8" cy="360" r="7" fill="url(#gGa)"/>
<circle cx="1799" cy="367.2" r="7.8" fill="url(#gTe)"/>
<circle cx="1823.4" cy="367.2" r="7.8" fill="url(#gTe)"/>
<circle cx="1846.7" cy="367.2" r="7.8" fill="url(#gSe)"/>
<circle cx="1870" cy="367.2" r="7.8" fill="url(#gTe)"/>
<circle cx="1893" cy="367.2" r="7.8" fill="url(#gSe)"/>
<circle cx="1916.5" cy="367.2" r="7.8" fill="url(#gTe)"/>
<circle cx="1939.8" cy="367.2" r="7.8" fill="url(#gSe)"/>
<circle cx="1963" cy="367.2" r="7.8" fill="url(#gTe)"/>
<circle cx="1652.2" cy="308.4" r="7" fill="url(#gGa)"/>
<circle cx="1665.04" cy="308.4" r="7" fill="url(#gGa)"/>
<circle cx="1677.88" cy="308.4" r="7" fill="url(#gGa)"/>
<circle cx="1690.72" cy="308.4" r="7" fill="url(#gGa)"/>
<circle cx="1703.56" cy="308.4" r="7" fill="url(#gGa)"/>
<circle cx="1716.4" cy="308.4" r="7" fill="url(#gGa)"/>
<circle cx="1729.24" cy="308.4" r="7" fill="url(#gGa)"/>
<circle cx="1742.08" cy="308.4" r="7" fill="url(#gGa)"/>
<circle cx="1754.92" cy="308.4" r="7" fill="url(#gGa)"/>
<circle cx="1767.76" cy="308.4" r="7" fill="url(#gGa)"/>
<circle cx="1780.6" cy="308.4" r="7" fill="url(#gGa)"/>
<circle cx="1793.44" cy="308.4" r="7" fill="url(#gGa)"/>
<circle cx="1806.28" cy="308.4" r="7" fill="url(#gGa)"/>
<circle cx="1652.2" cy="322.45" r="7" fill="url(#gGa)"/>
<circle cx="1665.04" cy="322.45" r="7" fill="url(#gGa)"/>
<circle cx="1677.88" cy="322.45" r="7" fill="url(#gGa)"/>
<circle cx="1690.72" cy="322.45" r="7" fill="url(#gGa)"/>
<circle cx="1703.56" cy="322.45" r="7" fill="url(#gGa)"/>
<circle cx="1716.4" cy="322.45" r="7" fill="url(#gGa)"/>
<circle cx="1729.24" cy="322.45" r="7" fill="url(#gGa)"/>
<circle cx="1742.08" cy="322.45" r="7" fill="url(#gGa)"/>
<circle cx="1754.92" cy="322.45" r="7" fill="url(#gGa)"/>
<circle cx="1767.76" cy="322.45" r="7" fill="url(#gGa)"/>
<circle cx="1780.6" cy="322.45" r="7" fill="url(#gGa)"/>
<circle cx="1793.44" cy="322.45" r="7" fill="url(#gGa)"/>
<circle cx="1806.28" cy="322.45" r="7" fill="url(#gGa)"/>
<circle cx="1665.04" cy="336.5" r="7" fill="url(#gGa)"/>
<circle cx="1677.88" cy="336.5" r="7" fill="url(#gGa)"/>
<circle cx="1690.72" cy="336.5" r="7" fill="url(#gGa)"/>
<circle cx="1703.56" cy="336.5" r="7" fill="url(#gGa)"/>
<circle cx="1716.4" cy="336.5" r="7" fill="url(#gGa)"/>
<circle cx="1729.24" cy="336.5" r="7" fill="url(#gGa)"/>
<circle cx="1742.08" cy="336.5" r="7" fill="url(#gGa)"/>
<circle cx="1754.92" cy="336.5" r="7" fill="url(#gGa)"/>
<circle cx="1767.76" cy="336.5" r="7" fill="url(#gGa)"/>
<circle cx="1780.6" cy="336.5" r="7" fill="url(#gGa)"/>
<circle cx="1793.44" cy="336.5" r="7" fill="url(#gGa)"/>
<circle cx="1677.88" cy="350.55" r="7" fill="url(#gGa)"/>
<circle cx="1690.72" cy="350.55" r="7" fill="url(#gGa)"/>
<circle cx="1703.56" cy="350.55" r="7" fill="url(#gGa)"/>
<circle cx="1716.4" cy="350.55" r="7" fill="url(#gGa)"/>
<circle cx="1729.24" cy="350.55" r="7" fill="url(#gGa)"/>
<circle cx="1742.08" cy="350.55" r="7" fill="url(#gGa)"/>
<circle cx="1754.92" cy="350.55" r="7" fill="url(#gGa)"/>
<circle cx="1767.76" cy="350.55" r="7" fill="url(#gGa)"/>
<circle cx="1780.6" cy="350.55" r="7" fill="url(#gGa)"/>
<circle cx="1793.44" cy="350.55" r="7" fill="url(#gGa)"/>
<circle cx="1690.72" cy="364.6" r="7" fill="url(#gGa)"/>
<circle cx="1703.56" cy="364.6" r="7" fill="url(#gGa)"/>
<circle cx="1716.4" cy="364.6" r="7" fill="url(#gGa)"/>
<circle cx="1729.24" cy="364.6" r="7" fill="url(#gGa)"/>
<circle cx="1742.08" cy="364.6" r="7" fill="url(#gGa)"/>
<circle cx="1754.92" cy="364.6" r="7" fill="url(#gGa)"/>
<circle cx="1767.76" cy="364.6" r="7" fill="url(#gGa)"/>
<circle cx="1780.6" cy="364.6" r="7" fill="url(#gGa)"/>
<circle cx="1703.56" cy="378.65" r="7" fill="url(#gGa)"/>
<circle cx="1716.4" cy="378.65" r="7" fill="url(#gGa)"/>
<circle cx="1729.24" cy="378.65" r="7" fill="url(#gGa)"/>
<circle cx="1742.08" cy="378.65" r="7" fill="url(#gGa)"/>
<circle cx="1754.92" cy="378.65" r="7" fill="url(#gGa)"/>
<circle cx="1767.76" cy="378.65" r="7" fill="url(#gGa)"/>
<circle cx="1716.4" cy="392.7" r="7" fill="url(#gGa)"/>
<circle cx="1729.24" cy="392.7" r="7" fill="url(#gGa)"/>
<circle cx="1742.08" cy="392.7" r="7" fill="url(#gGa)"/>
<circle cx="1754.92" cy="392.7" r="7" fill="url(#gGa)"/>
<circle cx="1729.24" cy="406.75" r="7" fill="url(#gGa)"/>
<circle cx="1742.08" cy="406.75" r="7" fill="url(#gGa)"/>
<circle cx="1645.8" cy="301.4" r="7.2" fill="url(#gGa)"/>
<circle cx="1671.48" cy="301.4" r="7.2" fill="url(#gGa)"/>
<circle cx="1697.16" cy="301.4" r="7.2" fill="url(#gGa)"/>
<circle cx="1722.84" cy="301.4" r="7.2" fill="url(#gGa)"/>
<circle cx="1748.52" cy="301.4" r="7.2" fill="url(#gGa)"/>
<circle cx="1774.2" cy="301.4" r="7.2" fill="url(#gGa)"/>
<circle cx="1799.88" cy="301.4" r="7.2" fill="url(#gGa)"/>
<circle cx="1645.8" cy="315.45" r="7.2" fill="url(#gGa)"/>
<circle cx="1658.64" cy="315.45" r="7.2" fill="url(#gGa)"/>
<circle cx="1684.32" cy="315.45" r="7.2" fill="url(#gGa)"/>
<circle cx="1710" cy="315.45" r="7.2" fill="url(#gGa)"/>
<circle cx="1735.68" cy="315.45" r="7.2" fill="url(#gGa)"/>
<circle cx="1761.36" cy="315.45" r="7.2" fill="url(#gGa)"/>
<circle cx="1787.04" cy="315.45" r="7.2" fill="url(#gGa)"/>
<circle cx="1658.64" cy="329.5" r="7.2" fill="url(#gGa)"/>
<circle cx="1671.48" cy="329.5" r="7.2" fill="url(#gGa)"/>
<circle cx="1697.16" cy="329.5" r="7.2" fill="url(#gGa)"/>
<circle cx="1722.84" cy="329.5" r="7.2" fill="url(#gGa)"/>
<circle cx="1748.52" cy="329.5" r="7.2" fill="url(#gGa)"/>
<circle cx="1774.2" cy="329.5" r="7.2" fill="url(#gGa)"/>
<circle cx="1799.88" cy="329.5" r="7.2" fill="url(#gGa)"/>
<circle cx="1671.48" cy="343.55" r="7.2" fill="url(#gGa)"/>
<circle cx="1684.32" cy="343.55" r="7.2" fill="url(#gGa)"/>
<circle cx="1710" cy="343.55" r="7.2" fill="url(#gGa)"/>
<circle cx="1735.68" cy="343.55" r="7.2" fill="url(#gGa)"/>
<circle cx="1761.36" cy="343.55" r="7.2" fill="url(#gGa)"/>
<circle cx="1787.04" cy="343.55" r="7.2" fill="url(#gGa)"/>
<circle cx="1684.32" cy="357.6" r="7.2" fill="url(#gGa)"/>
<circle cx="1697.16" cy="357.6" r="7.2" fill="url(#gGa)"/>
<circle cx="1722.84" cy="357.6" r="7.2" fill="url(#gGa)"/>
<circle cx="1748.52" cy="357.6" r="7.2" fill="url(#gGa)"/>
<circle cx="1774.2" cy="357.6" r="7.2" fill="url(#gGa)"/>
<circle cx="1787.04" cy="357.6" r="7.2" fill="url(#gGa)"/>
<circle cx="1697.16" cy="371.65" r="7.2" fill="url(#gGa)"/>
<circle cx="1710" cy="371.65" r="7.2" fill="url(#gGa)"/>
<circle cx="1735.68" cy="371.65" r="7.2" fill="url(#gGa)"/>
<circle cx="1761.36" cy="371.65" r="7.2" fill="url(#gGa)"/>
<circle cx="1774.2" cy="371.65" r="7.2" fill="url(#gGa)"/>
<circle cx="1710" cy="385.7" r="7.2" fill="url(#gGa)"/>
<circle cx="1722.84" cy="385.7" r="7.2" fill="url(#gGa)"/>
<circle cx="1748.52" cy="385.7" r="7.2" fill="url(#gGa)"/>
<circle cx="1761.36" cy="385.7" r="7.2" fill="url(#gGa)"/>
<circle cx="1722.84" cy="399.75" r="7.2" fill="url(#gGa)"/>
<circle cx="1735.68" cy="399.75" r="7.2" fill="url(#gGa)"/>
<circle cx="1748.52" cy="399.75" r="7.2" fill="url(#gGa)"/>
<circle cx="1735.68" cy="413.8" r="7.2" fill="url(#gGa)"/>
<circle cx="1658.64" cy="301.4" r="7.9" fill="url(#gTe)"/>
<circle cx="1684.32" cy="301.4" r="7.9" fill="url(#gSe)"/>
<circle cx="1710" cy="301.4" r="7.9" fill="url(#gTe)"/>
<circle cx="1735.68" cy="301.4" r="7.9" fill="url(#gSe)"/>
<circle cx="1761.36" cy="301.4" r="7.9" fill="url(#gTe)"/>
<circle cx="1787.04" cy="301.4" r="7.9" fill="url(#gSe)"/>
<circle cx="1671.48" cy="315.45" r="7.9" fill="url(#gTe)"/>
<circle cx="1697.16" cy="315.45" r="7.9" fill="url(#gTe)"/>
<circle cx="1722.84" cy="315.45" r="7.9" fill="url(#gSe)"/>
<circle cx="1748.52" cy="315.45" r="7.9" fill="url(#gSe)"/>
<circle cx="1774.2" cy="315.45" r="7.9" fill="url(#gTe)"/>
<circle cx="1799.88" cy="315.45" r="7.9" fill="url(#gTe)"/>
<circle cx="1684.32" cy="329.5" r="7.9" fill="url(#gSe)"/>
<circle cx="1710" cy="329.5" r="7.9" fill="url(#gTe)"/>
<circle cx="1735.68" cy="329.5" r="7.9" fill="url(#gTe)"/>
<circle cx="1761.36" cy="329.5" r="7.9" fill="url(#gSe)"/>
<circle cx="1787.04" cy="329.5" r="7.9" fill="url(#gSe)"/>
<circle cx="1697.16" cy="343.55" r="7.9" fill="url(#gSe)"/>
<circle cx="1722.84" cy="343.55" r="7.9" fill="url(#gSe)"/>
<circle cx="1748.52" cy="343.55" r="7.9" fill="url(#gTe)"/>
<circle cx="1774.2" cy="343.55" r="7.9" fill="url(#gTe)"/>
<circle cx="1710" cy="357.6" r="7.9" fill="url(#gTe)"/>
<circle cx="1735.68" cy="357.6" r="7.9" fill="url(#gSe)"/>
<circle cx="1761.36" cy="357.6" r="7.9" fill="url(#gSe)"/>
<circle cx="1722.84" cy="371.65" r="7.9" fill="url(#gSe)"/>
<circle cx="1748.52" cy="371.65" r="7.9" fill="url(#gTe)"/>
<circle cx="1735.68" cy="385.7" r="7.9" fill="url(#gSe)"/>
<polygon points="1694.8,278.3 1748.7,278.3 1748.7,272.4 1768,281.8 1748.7,290.8 1748.7,285.3 1694.8,285.3" fill="#0f2a68"/>
<polygon points="1844.7,278.3 1899.1,278.3 1899.1,272.4 1917.9,281.8 1899.1,290.8 1899.1,285.3 1844.7,285.3" fill="#0f2a68"/>
<text x="1685" y="266.9" font-size="26" text-anchor="start" font-weight="normal" fill="#000" >h-[2110]</text>
<line x1="1730.5" y1="244" x2="1756" y2="244" stroke="#000" stroke-width="1.7"/>
<text x="1843" y="266.9" font-size="25.5" text-anchor="start" font-weight="normal" fill="#000" >m-[010]</text>
<circle cx="1916.6" cy="401.6" r="8" fill="url(#gGa)"/>
<circle cx="1916.6" cy="429.1" r="8.6" fill="url(#gTe)"/>
<circle cx="1916.6" cy="456.6" r="8.3" fill="url(#gSe)"/>
<text x="1931.8" y="408" font-size="24.5" text-anchor="start" font-weight="normal" fill="#000" >Ga</text>
<text x="1935.3" y="437" font-size="24.5" text-anchor="start" font-weight="normal" fill="#000" >Te</text>
<text x="1936.6" y="465" font-size="24.5" text-anchor="start" font-weight="normal" fill="#000" >Se</text>
<text x="1626" y="261" font-size="42" text-anchor="start" font-weight="bold" fill="#000" >f</text>
</svg>
</body></html>
